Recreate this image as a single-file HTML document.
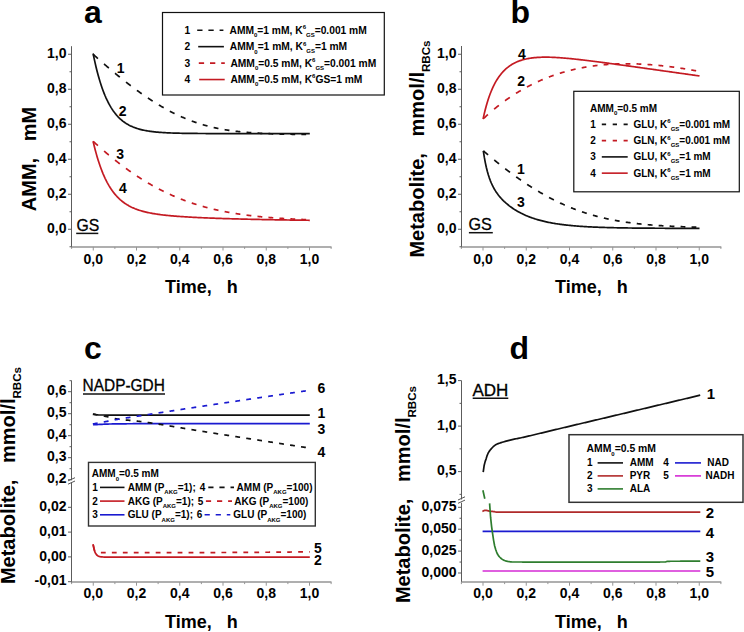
<!DOCTYPE html>
<html><head><meta charset="utf-8"><style>
html,body{margin:0;padding:0;background:#fff;}
svg{display:block;}
text{font-family:"Liberation Sans",sans-serif;fill:#000;}
</style></head><body>
<svg width="744" height="632" viewBox="0 0 744 632">
<rect width="744" height="632" fill="#fff"/>
<text x="84.1" y="23.4" font-size="32" font-weight="bold" text-anchor="start">a</text>
<line x1="71.5" y1="46.2" x2="71.5" y2="247.2" stroke="#5c5c5c" stroke-width="1"/>
<line x1="71.5" y1="246.9" x2="331.5" y2="246.9" stroke="#959595" stroke-width="1.5"/>
<line x1="71.62" y1="246.9" x2="71.62" y2="248.9" stroke="#959595" stroke-width="1"/>
<line x1="93.25" y1="246.9" x2="93.25" y2="250.5" stroke="#959595" stroke-width="1"/>
<text x="93.25" y="263.9" font-size="14" font-weight="bold" text-anchor="middle">0,0</text>
<line x1="114.88" y1="246.9" x2="114.88" y2="248.9" stroke="#959595" stroke-width="1"/>
<line x1="136.5" y1="246.9" x2="136.5" y2="250.5" stroke="#959595" stroke-width="1"/>
<text x="136.5" y="263.9" font-size="14" font-weight="bold" text-anchor="middle">0,2</text>
<line x1="158.12" y1="246.9" x2="158.12" y2="248.9" stroke="#959595" stroke-width="1"/>
<line x1="179.75" y1="246.9" x2="179.75" y2="250.5" stroke="#959595" stroke-width="1"/>
<text x="179.75" y="263.9" font-size="14" font-weight="bold" text-anchor="middle">0,4</text>
<line x1="201.38" y1="246.9" x2="201.38" y2="248.9" stroke="#959595" stroke-width="1"/>
<line x1="223" y1="246.9" x2="223" y2="250.5" stroke="#959595" stroke-width="1"/>
<text x="223" y="263.9" font-size="14" font-weight="bold" text-anchor="middle">0,6</text>
<line x1="244.62" y1="246.9" x2="244.62" y2="248.9" stroke="#959595" stroke-width="1"/>
<line x1="266.25" y1="246.9" x2="266.25" y2="250.5" stroke="#959595" stroke-width="1"/>
<text x="266.25" y="263.9" font-size="14" font-weight="bold" text-anchor="middle">0,8</text>
<line x1="287.88" y1="246.9" x2="287.88" y2="248.9" stroke="#959595" stroke-width="1"/>
<line x1="309.5" y1="246.9" x2="309.5" y2="250.5" stroke="#959595" stroke-width="1"/>
<text x="309.5" y="263.9" font-size="14" font-weight="bold" text-anchor="middle">1,0</text>
<line x1="331.12" y1="246.9" x2="331.12" y2="248.9" stroke="#959595" stroke-width="1"/>
<line x1="68" y1="229.25" x2="71.5" y2="229.25" stroke="#5c5c5c" stroke-width="1"/>
<text x="66.5" y="232.85" font-size="14" font-weight="bold" text-anchor="end">0,0</text>
<line x1="68" y1="194.25" x2="71.5" y2="194.25" stroke="#5c5c5c" stroke-width="1"/>
<text x="66.5" y="197.85" font-size="14" font-weight="bold" text-anchor="end">0,2</text>
<line x1="68" y1="159.25" x2="71.5" y2="159.25" stroke="#5c5c5c" stroke-width="1"/>
<text x="66.5" y="162.85" font-size="14" font-weight="bold" text-anchor="end">0,4</text>
<line x1="68" y1="124.25" x2="71.5" y2="124.25" stroke="#5c5c5c" stroke-width="1"/>
<text x="66.5" y="127.85" font-size="14" font-weight="bold" text-anchor="end">0,6</text>
<line x1="68" y1="89.25" x2="71.5" y2="89.25" stroke="#5c5c5c" stroke-width="1"/>
<text x="66.5" y="92.85" font-size="14" font-weight="bold" text-anchor="end">0,8</text>
<line x1="68" y1="54.25" x2="71.5" y2="54.25" stroke="#5c5c5c" stroke-width="1"/>
<text x="66.5" y="57.85" font-size="14" font-weight="bold" text-anchor="end">1,0</text>
<line x1="69.5" y1="246.75" x2="71.5" y2="246.75" stroke="#5c5c5c" stroke-width="1"/>
<line x1="69.5" y1="211.75" x2="71.5" y2="211.75" stroke="#5c5c5c" stroke-width="1"/>
<line x1="69.5" y1="176.75" x2="71.5" y2="176.75" stroke="#5c5c5c" stroke-width="1"/>
<line x1="69.5" y1="141.75" x2="71.5" y2="141.75" stroke="#5c5c5c" stroke-width="1"/>
<line x1="69.5" y1="106.75" x2="71.5" y2="106.75" stroke="#5c5c5c" stroke-width="1"/>
<line x1="69.5" y1="71.75" x2="71.5" y2="71.75" stroke="#5c5c5c" stroke-width="1"/>
<path d="M93.1 54.3 L93.6 54.75 L94.1 55.2 L94.6 55.65 L95.1 56.09 L95.6 56.54 L96.1 56.99 L96.6 57.43 L97.1 57.88 L97.6 58.32 L97.9 58.59 M104.06 63.98 L104.56 64.42 L105.06 64.85 L105.56 65.28 L106.06 65.71 L106.56 66.14 L107.06 66.56 L107.56 66.99 L108.06 67.42 L108.56 67.84 L108.86 68.1 M115.02 73.26 L115.52 73.67 L116.02 74.08 L116.52 74.49 L117.02 74.9 L117.52 75.31 L118.02 75.72 L118.52 76.12 L119.02 76.53 L119.52 76.93 L119.82 77.17 M125.98 82.06 L126.48 82.45 L126.98 82.84 L127.48 83.23 L127.98 83.61 L128.48 84 L128.98 84.38 L129.48 84.76 L129.98 85.15 L130.48 85.53 L130.78 85.75 M136.94 90.33 L137.44 90.69 L137.94 91.05 L138.44 91.41 L138.94 91.77 L139.44 92.13 L139.94 92.49 L140.44 92.84 L140.94 93.2 L141.44 93.55 L141.74 93.76 M147.9 97.98 L148.4 98.31 L148.9 98.64 L149.4 98.97 L149.9 99.3 L150.4 99.63 L150.9 99.96 L151.4 100.28 L151.9 100.6 L152.4 100.93 L152.7 101.12 M158.86 104.94 L159.36 105.24 L159.86 105.54 L160.36 105.83 L160.86 106.13 L161.36 106.42 L161.86 106.71 L162.36 107 L162.86 107.29 L163.36 107.58 L163.66 107.75 M169.82 111.13 L170.32 111.39 L170.82 111.65 L171.32 111.91 L171.82 112.17 L172.32 112.43 L172.82 112.68 L173.32 112.93 L173.82 113.18 L174.32 113.43 L174.62 113.58 M180.78 116.49 L181.28 116.72 L181.78 116.94 L182.28 117.16 L182.78 117.38 L183.28 117.59 L183.78 117.81 L184.28 118.02 L184.78 118.23 L185.28 118.44 L185.58 118.57 M191.74 120.99 L192.24 121.18 L192.74 121.36 L193.24 121.54 L193.74 121.72 L194.24 121.9 L194.74 122.08 L195.24 122.25 L195.74 122.42 L196.24 122.59 L196.54 122.7 M202.7 124.64 L203.2 124.79 L203.7 124.94 L204.2 125.08 L204.7 125.22 L205.2 125.36 L205.7 125.5 L206.2 125.64 L206.7 125.77 L207.2 125.91 L207.5 125.99 M213.66 127.5 L214.16 127.61 L214.66 127.72 L215.16 127.83 L215.66 127.94 L216.16 128.05 L216.66 128.15 L217.16 128.26 L217.66 128.36 L218.16 128.46 L218.46 128.52 M224.62 129.65 L225.12 129.74 L225.62 129.82 L226.12 129.9 L226.62 129.98 L227.12 130.06 L227.62 130.14 L228.12 130.21 L228.62 130.29 L229.12 130.36 L229.42 130.41 M235.58 131.23 L236.08 131.29 L236.58 131.35 L237.08 131.41 L237.58 131.46 L238.08 131.52 L238.58 131.58 L239.08 131.63 L239.58 131.68 L240.08 131.74 L240.38 131.77 M246.54 132.35 L247.04 132.39 L247.54 132.43 L248.04 132.47 L248.54 132.51 L249.04 132.55 L249.54 132.59 L250.04 132.63 L250.54 132.67 L251.04 132.7 L251.34 132.72 M257.5 133.13 L258 133.15 L258.5 133.18 L259 133.21 L259.5 133.24 L260 133.27 L260.5 133.29 L261 133.32 L261.5 133.34 L262 133.37 L262.3 133.38 M268.46 133.66 L268.96 133.68 L269.46 133.7 L269.96 133.71 L270.46 133.73 L270.96 133.75 L271.46 133.77 L271.96 133.79 L272.46 133.8 L272.96 133.82 L273.26 133.83 M279.42 134.02 L279.92 134.03 L280.42 134.04 L280.92 134.06 L281.42 134.07 L281.92 134.08 L282.42 134.09 L282.92 134.1 L283.42 134.12 L283.92 134.13 L284.22 134.13 M290.38 134.26 L290.88 134.27 L291.38 134.27 L291.88 134.28 L292.38 134.29 L292.88 134.3 L293.38 134.31 L293.88 134.32 L294.38 134.32 L294.88 134.33 L295.18 134.34 M301.34 134.42 L301.84 134.42 L302.34 134.43 L302.84 134.43 L303.34 134.44 L303.84 134.45 L304.34 134.45 L304.84 134.46 L305.34 134.46 L305.84 134.47 L306.14 134.47" fill="none" stroke="#111" stroke-width="1.7" stroke-linejoin="round"/>
<path d="M93.1 53.5 L94.1 58.35 L95.1 62.91 L96.1 67.19 L97.1 71.22 L98.1 75 L99.1 78.55 L100.1 81.88 L101.1 85.01 L102.1 87.96 L103.1 90.72 L104.1 93.32 L105.1 95.76 L106.1 98.05 L107.1 100.2 L108.1 102.23 L109.1 104.13 L110.1 105.91 L111.1 107.59 L112.1 109.16 L113.1 110.64 L114.1 112.03 L115.1 113.34 L116.1 114.57 L117.1 115.72 L118.1 116.8 L119.1 117.82 L120.1 118.78 L121.1 119.67 L122.1 120.52 L123.1 121.31 L124.1 122.05 L125.1 122.75 L126.1 123.41 L127.1 124.03 L128.1 124.61 L129.1 125.15 L130.1 125.66 L131.1 126.14 L132.1 126.59 L133.1 127.02 L134.1 127.42 L135.1 127.79 L136.1 128.14 L137.1 128.47 L138.1 128.78 L139.1 129.07 L140.1 129.35 L141.1 129.61 L142.1 129.85 L143.1 130.07 L144.1 130.29 L145.1 130.49 L146.1 130.68 L147.1 130.85 L148.1 131.02 L149.1 131.18 L150.1 131.32 L151.1 131.46 L152.1 131.59 L153.1 131.71 L154.1 131.82 L155.1 131.93 L156.1 132.03 L157.1 132.13 L158.1 132.22 L159.1 132.3 L160.1 132.38 L161.1 132.45 L162.1 132.52 L163.1 132.59 L164.1 132.65 L165.1 132.7 L166.1 132.76 L167.1 132.81 L168.1 132.86 L169.1 132.9 L170.1 132.94 L171.1 132.98 L172.1 133.02 L173.1 133.05 L174.1 133.09 L175.1 133.12 L176.1 133.15 L177.1 133.17 L178.1 133.2 L179.1 133.22 L180.1 133.25 L181.1 133.27 L182.1 133.29 L183.1 133.31 L184.1 133.32 L185.1 133.34 L186.1 133.36 L187.1 133.37 L188.1 133.38 L189.1 133.4 L190.1 133.41 L191.1 133.42 L192.1 133.43 L193.1 133.44 L194.1 133.45 L195.1 133.46 L196.1 133.47 L197.1 133.47 L198.1 133.48 L199.1 133.49 L200.1 133.5 L201.1 133.5 L202.1 133.51 L203.1 133.51 L204.1 133.52 L205.1 133.52 L206.1 133.53 L207.1 133.53 L208.1 133.53 L209.1 133.54 L210.1 133.54 L211.1 133.54 L212.1 133.55 L213.1 133.55 L214.1 133.55 L215.1 133.56 L216.1 133.56 L217.1 133.56 L218.1 133.56 L219.1 133.56 L220.1 133.57 L221.1 133.57 L222.1 133.57 L223.1 133.57 L224.1 133.57 L225.1 133.57 L226.1 133.58 L227.1 133.58 L228.1 133.58 L229.1 133.58 L230.1 133.58 L231.1 133.58 L232.1 133.58 L233.1 133.58 L234.1 133.58 L235.1 133.58 L236.1 133.58 L237.1 133.59 L238.1 133.59 L239.1 133.59 L240.1 133.59 L241.1 133.59 L242.1 133.59 L243.1 133.59 L244.1 133.59 L245.1 133.59 L246.1 133.59 L247.1 133.59 L248.1 133.59 L249.1 133.59 L250.1 133.59 L251.1 133.59 L252.1 133.59 L253.1 133.59 L254.1 133.59 L255.1 133.59 L256.1 133.59 L257.1 133.59 L258.1 133.59 L259.1 133.59 L260.1 133.59 L261.1 133.59 L262.1 133.59 L263.1 133.59 L264.1 133.59 L265.1 133.59 L266.1 133.59 L267.1 133.59 L268.1 133.59 L269.1 133.59 L270.1 133.59 L271.1 133.59 L272.1 133.59 L273.1 133.59 L274.1 133.59 L275.1 133.59 L276.1 133.59 L277.1 133.59 L278.1 133.59 L279.1 133.59 L280.1 133.59 L281.1 133.59 L282.1 133.59 L283.1 133.59 L284.1 133.59 L285.1 133.59 L286.1 133.59 L287.1 133.59 L288.1 133.59 L289.1 133.59 L290.1 133.59 L291.1 133.59 L292.1 133.59 L293.1 133.59 L294.1 133.59 L295.1 133.59 L296.1 133.59 L297.1 133.59 L298.1 133.59 L299.1 133.59 L300.1 133.59 L301.1 133.59 L302.1 133.59 L303.1 133.59 L304.1 133.59 L305.1 133.59 L306.1 133.59 L307.1 133.59 L308.1 133.59 L309.1 133.59 L309.8 133.59" fill="none" stroke="#111" stroke-width="1.7" stroke-linejoin="round"/>
<path d="M93.1 141.3 L93.6 141.76 L94.1 142.22 L94.6 142.67 L95.1 143.13 L95.6 143.58 L96.1 144.03 L96.6 144.48 L97.1 144.93 L97.6 145.38 L97.9 145.65 M104.06 151.04 L104.56 151.47 L105.06 151.9 L105.56 152.32 L106.06 152.75 L106.56 153.17 L107.06 153.59 L107.56 154.01 L108.06 154.43 L108.56 154.85 L108.86 155.09 M115.02 160.1 L115.52 160.49 L116.02 160.89 L116.52 161.28 L117.02 161.67 L117.52 162.06 L118.02 162.45 L118.52 162.84 L119.02 163.22 L119.52 163.61 L119.82 163.84 M125.98 168.43 L126.48 168.79 L126.98 169.16 L127.48 169.52 L127.98 169.87 L128.48 170.23 L128.98 170.59 L129.48 170.94 L129.98 171.29 L130.48 171.64 L130.78 171.85 M136.94 176.03 L137.44 176.36 L137.94 176.68 L138.44 177.01 L138.94 177.33 L139.44 177.66 L139.94 177.98 L140.44 178.3 L140.94 178.61 L141.44 178.93 L141.74 179.12 M147.9 182.87 L148.4 183.17 L148.9 183.46 L149.4 183.75 L149.9 184.04 L150.4 184.33 L150.9 184.62 L151.4 184.9 L151.9 185.19 L152.4 185.47 L152.7 185.64 M158.86 188.97 L159.36 189.23 L159.86 189.49 L160.36 189.75 L160.86 190 L161.36 190.26 L161.86 190.51 L162.36 190.76 L162.86 191.01 L163.36 191.26 L163.66 191.41 M169.82 194.34 L170.32 194.56 L170.82 194.79 L171.32 195.01 L171.82 195.24 L172.32 195.46 L172.82 195.68 L173.32 195.9 L173.82 196.12 L174.32 196.33 L174.62 196.46 M180.78 199 L181.28 199.19 L181.78 199.39 L182.28 199.58 L182.78 199.77 L183.28 199.97 L183.78 200.15 L184.28 200.34 L184.78 200.53 L185.28 200.72 L185.58 200.83 M191.74 203 L192.24 203.16 L192.74 203.33 L193.24 203.49 L193.74 203.66 L194.24 203.82 L194.74 203.98 L195.24 204.14 L195.74 204.3 L196.24 204.46 L196.54 204.55 M202.7 206.39 L203.2 206.53 L203.7 206.67 L204.2 206.81 L204.7 206.95 L205.2 207.08 L205.7 207.22 L206.2 207.35 L206.7 207.49 L207.2 207.62 L207.5 207.7 M213.66 209.23 L214.16 209.35 L214.66 209.46 L215.16 209.58 L215.66 209.7 L216.16 209.81 L216.66 209.92 L217.16 210.03 L217.66 210.14 L218.16 210.25 L218.46 210.32 M224.62 211.59 L225.12 211.69 L225.62 211.78 L226.12 211.88 L226.62 211.97 L227.12 212.07 L227.62 212.16 L228.12 212.25 L228.62 212.34 L229.12 212.43 L229.42 212.49 M235.58 213.53 L236.08 213.61 L236.58 213.69 L237.08 213.76 L237.58 213.84 L238.08 213.92 L238.58 213.99 L239.08 214.07 L239.58 214.14 L240.08 214.22 L240.38 214.26 M246.54 215.11 L247.04 215.17 L247.54 215.24 L248.04 215.3 L248.54 215.36 L249.04 215.42 L249.54 215.49 L250.04 215.55 L250.54 215.61 L251.04 215.67 L251.34 215.7 M257.5 216.39 L258 216.44 L258.5 216.49 L259 216.54 L259.5 216.59 L260 216.64 L260.5 216.69 L261 216.74 L261.5 216.79 L262 216.84 L262.3 216.86 M268.46 217.42 L268.96 217.46 L269.46 217.5 L269.96 217.54 L270.46 217.58 L270.96 217.62 L271.46 217.66 L271.96 217.7 L272.46 217.74 L272.96 217.78 L273.26 217.8 M279.42 218.24 L279.92 218.27 L280.42 218.3 L280.92 218.34 L281.42 218.37 L281.92 218.4 L282.42 218.43 L282.92 218.46 L283.42 218.5 L283.92 218.53 L284.22 218.54 M290.38 218.89 L290.88 218.92 L291.38 218.95 L291.88 218.97 L292.38 219 L292.88 219.02 L293.38 219.05 L293.88 219.07 L294.38 219.1 L294.88 219.12 L295.18 219.14 M301.34 219.42 L301.84 219.44 L302.34 219.46 L302.84 219.48 L303.34 219.5 L303.84 219.52 L304.34 219.54 L304.84 219.56 L305.34 219.58 L305.84 219.6 L306.14 219.61" fill="none" stroke="#c41a22" stroke-width="1.7" stroke-linejoin="round"/>
<path d="M93.1 141.3 L94.1 145.49 L95.1 149.43 L96.1 153.15 L97.1 156.65 L98.1 159.95 L99.1 163.06 L100.1 165.99 L101.1 168.75 L102.1 171.35 L103.1 173.81 L104.1 176.12 L105.1 178.31 L106.1 180.36 L107.1 182.31 L108.1 184.14 L109.1 185.86 L110.1 187.49 L111.1 189.03 L112.1 190.49 L113.1 191.86 L114.1 193.15 L115.1 194.37 L116.1 195.53 L117.1 196.62 L118.1 197.65 L119.1 198.63 L120.1 199.55 L121.1 200.42 L122.1 201.24 L123.1 202.02 L124.1 202.76 L125.1 203.46 L126.1 204.12 L127.1 204.75 L128.1 205.34 L129.1 205.91 L130.1 206.44 L131.1 206.95 L132.1 207.43 L133.1 207.88 L134.1 208.31 L135.1 208.73 L136.1 209.12 L137.1 209.49 L138.1 209.84 L139.1 210.18 L140.1 210.5 L141.1 210.8 L142.1 211.09 L143.1 211.37 L144.1 211.63 L145.1 211.88 L146.1 212.13 L147.1 212.36 L148.1 212.57 L149.1 212.78 L150.1 212.99 L151.1 213.18 L152.1 213.36 L153.1 213.54 L154.1 213.71 L155.1 213.87 L156.1 214.03 L157.1 214.18 L158.1 214.32 L159.1 214.46 L160.1 214.59 L161.1 214.72 L162.1 214.85 L163.1 214.97 L164.1 215.08 L165.1 215.19 L166.1 215.3 L167.1 215.41 L168.1 215.51 L169.1 215.6 L170.1 215.7 L171.1 215.79 L172.1 215.88 L173.1 215.97 L174.1 216.05 L175.1 216.13 L176.1 216.21 L177.1 216.29 L178.1 216.36 L179.1 216.43 L180.1 216.51 L181.1 216.58 L182.1 216.64 L183.1 216.71 L184.1 216.77 L185.1 216.84 L186.1 216.9 L187.1 216.96 L188.1 217.02 L189.1 217.07 L190.1 217.13 L191.1 217.19 L192.1 217.24 L193.1 217.29 L194.1 217.34 L195.1 217.4 L196.1 217.45 L197.1 217.49 L198.1 217.54 L199.1 217.59 L200.1 217.64 L201.1 217.68 L202.1 217.73 L203.1 217.77 L204.1 217.81 L205.1 217.86 L206.1 217.9 L207.1 217.94 L208.1 217.98 L209.1 218.02 L210.1 218.06 L211.1 218.1 L212.1 218.14 L213.1 218.18 L214.1 218.21 L215.1 218.25 L216.1 218.29 L217.1 218.32 L218.1 218.36 L219.1 218.39 L220.1 218.43 L221.1 218.46 L222.1 218.49 L223.1 218.53 L224.1 218.56 L225.1 218.59 L226.1 218.62 L227.1 218.65 L228.1 218.68 L229.1 218.71 L230.1 218.74 L231.1 218.77 L232.1 218.8 L233.1 218.83 L234.1 218.86 L235.1 218.89 L236.1 218.92 L237.1 218.94 L238.1 218.97 L239.1 219 L240.1 219.02 L241.1 219.05 L242.1 219.08 L243.1 219.1 L244.1 219.13 L245.1 219.15 L246.1 219.18 L247.1 219.2 L248.1 219.23 L249.1 219.25 L250.1 219.27 L251.1 219.3 L252.1 219.32 L253.1 219.34 L254.1 219.36 L255.1 219.39 L256.1 219.41 L257.1 219.43 L258.1 219.45 L259.1 219.47 L260.1 219.49 L261.1 219.52 L262.1 219.54 L263.1 219.56 L264.1 219.58 L265.1 219.6 L266.1 219.62 L267.1 219.64 L268.1 219.65 L269.1 219.67 L270.1 219.69 L271.1 219.71 L272.1 219.73 L273.1 219.75 L274.1 219.77 L275.1 219.78 L276.1 219.8 L277.1 219.82 L278.1 219.84 L279.1 219.85 L280.1 219.87 L281.1 219.89 L282.1 219.9 L283.1 219.92 L284.1 219.93 L285.1 219.95 L286.1 219.97 L287.1 219.98 L288.1 220 L289.1 220.01 L290.1 220.03 L291.1 220.04 L292.1 220.06 L293.1 220.07 L294.1 220.09 L295.1 220.1 L296.1 220.11 L297.1 220.13 L298.1 220.14 L299.1 220.16 L300.1 220.17 L301.1 220.18 L302.1 220.2 L303.1 220.21 L304.1 220.22 L305.1 220.23 L306.1 220.25 L307.1 220.26 L308.1 220.27 L309.1 220.28 L309.8 220.29" fill="none" stroke="#c41a22" stroke-width="1.7" stroke-linejoin="round"/>
<text x="120.7" y="73.2" font-size="14" font-weight="bold" text-anchor="middle">1</text>
<text x="122.6" y="115.7" font-size="14" font-weight="bold" text-anchor="middle">2</text>
<text x="120.2" y="159.4" font-size="14" font-weight="bold" text-anchor="middle">3</text>
<text x="122.8" y="192.6" font-size="14" font-weight="bold" text-anchor="middle">4</text>
<text transform="translate(76.4 230.7) scale(0.93 1)" font-size="17" stroke="#000" stroke-width="0.3">GS</text>
<line x1="76.2" y1="233.4" x2="98.3" y2="233.4" stroke="#111" stroke-width="1.5"/>
<text transform="translate(36.3 159) rotate(-90)" font-size="20" font-weight="bold" text-anchor="middle">AMM,&#160;&#160;&#160;mM</text>
<text x="165" y="292.9" font-size="18" font-weight="bold" text-anchor="start">Time,&#160;&#160;&#160;h</text>
<rect x="162.5" y="12.5" width="221.8" height="82.5" fill="none" stroke="#111" stroke-width="1.2"/>
<text x="184.5" y="33.6" font-size="10.25" font-weight="bold" text-anchor="start">1</text>
<line x1="197.2" y1="30.2" x2="223.4" y2="30.2" stroke="#111" stroke-width="1.6" stroke-dasharray="5.3 5.9"/>
<text x="229.5" y="33.6" font-size="10.25" font-weight="bold">AMM<tspan font-size="6" dy="3.5">0</tspan><tspan dy="-3.5">=1 mM, </tspan>K<tspan font-size="6" dy="-4.5">6</tspan><tspan font-size="6" dy="7.5">GS</tspan><tspan dy="-3">=0.001 mM</tspan></text>
<text x="184.5" y="50.05" font-size="10.25" font-weight="bold" text-anchor="start">2</text>
<line x1="198.2" y1="46.65" x2="223.9" y2="46.65" stroke="#111" stroke-width="1.6"/>
<text x="229.8" y="50.05" font-size="10.25" font-weight="bold">AMM<tspan font-size="6" dy="3.5">0</tspan><tspan dy="-3.5">=1 mM, </tspan>K<tspan font-size="6" dy="-4.5">6</tspan><tspan font-size="6" dy="7.5">GS</tspan><tspan dy="-3">=1 mM</tspan></text>
<text x="184.5" y="66.5" font-size="10.25" font-weight="bold" text-anchor="start">3</text>
<line x1="198.8" y1="63.1" x2="224.8" y2="63.1" stroke="#c41a22" stroke-width="1.6" stroke-dasharray="5.3 5.9"/>
<text x="230.4" y="66.5" font-size="10.25" font-weight="bold">AMM<tspan font-size="6" dy="3.5">0</tspan><tspan dy="-3.5">=0.5 mM, </tspan>K<tspan font-size="6" dy="-4.5">6</tspan><tspan font-size="6" dy="7.5">GS</tspan><tspan dy="-3">=0.001 mM</tspan></text>
<text x="184.5" y="82.95" font-size="10.25" font-weight="bold" text-anchor="start">4</text>
<line x1="199.2" y1="79.55" x2="224.7" y2="79.55" stroke="#c41a22" stroke-width="1.6"/>
<text x="230.4" y="82.95" font-size="10.25" font-weight="bold">AMM<tspan font-size="6" dy="3.5">0</tspan><tspan dy="-3.5">=0.5 mM, K<tspan font-size="6" dy="-4.5">6</tspan><tspan dy="4.5">GS=1 mM</tspan></tspan></text>
<text x="510.6" y="23.4" font-size="32" font-weight="bold" text-anchor="start">b</text>
<line x1="461.5" y1="46" x2="461.5" y2="247.2" stroke="#5c5c5c" stroke-width="1"/>
<line x1="461.5" y1="246.9" x2="721.3" y2="246.9" stroke="#959595" stroke-width="1.5"/>
<line x1="461.38" y1="246.9" x2="461.38" y2="248.9" stroke="#959595" stroke-width="1"/>
<line x1="483" y1="246.9" x2="483" y2="250.5" stroke="#959595" stroke-width="1"/>
<text x="483" y="263.9" font-size="14" font-weight="bold" text-anchor="middle">0,0</text>
<line x1="504.62" y1="246.9" x2="504.62" y2="248.9" stroke="#959595" stroke-width="1"/>
<line x1="526.25" y1="246.9" x2="526.25" y2="250.5" stroke="#959595" stroke-width="1"/>
<text x="526.25" y="263.9" font-size="14" font-weight="bold" text-anchor="middle">0,2</text>
<line x1="547.88" y1="246.9" x2="547.88" y2="248.9" stroke="#959595" stroke-width="1"/>
<line x1="569.5" y1="246.9" x2="569.5" y2="250.5" stroke="#959595" stroke-width="1"/>
<text x="569.5" y="263.9" font-size="14" font-weight="bold" text-anchor="middle">0,4</text>
<line x1="591.12" y1="246.9" x2="591.12" y2="248.9" stroke="#959595" stroke-width="1"/>
<line x1="612.75" y1="246.9" x2="612.75" y2="250.5" stroke="#959595" stroke-width="1"/>
<text x="612.75" y="263.9" font-size="14" font-weight="bold" text-anchor="middle">0,6</text>
<line x1="634.38" y1="246.9" x2="634.38" y2="248.9" stroke="#959595" stroke-width="1"/>
<line x1="656" y1="246.9" x2="656" y2="250.5" stroke="#959595" stroke-width="1"/>
<text x="656" y="263.9" font-size="14" font-weight="bold" text-anchor="middle">0,8</text>
<line x1="677.62" y1="246.9" x2="677.62" y2="248.9" stroke="#959595" stroke-width="1"/>
<line x1="699.25" y1="246.9" x2="699.25" y2="250.5" stroke="#959595" stroke-width="1"/>
<text x="699.25" y="263.9" font-size="14" font-weight="bold" text-anchor="middle">1,0</text>
<line x1="720.88" y1="246.9" x2="720.88" y2="248.9" stroke="#959595" stroke-width="1"/>
<line x1="458" y1="229.25" x2="461.5" y2="229.25" stroke="#5c5c5c" stroke-width="1"/>
<text x="456.5" y="232.85" font-size="14" font-weight="bold" text-anchor="end">0,0</text>
<line x1="458" y1="194.25" x2="461.5" y2="194.25" stroke="#5c5c5c" stroke-width="1"/>
<text x="456.5" y="197.85" font-size="14" font-weight="bold" text-anchor="end">0,2</text>
<line x1="458" y1="159.25" x2="461.5" y2="159.25" stroke="#5c5c5c" stroke-width="1"/>
<text x="456.5" y="162.85" font-size="14" font-weight="bold" text-anchor="end">0,4</text>
<line x1="458" y1="124.25" x2="461.5" y2="124.25" stroke="#5c5c5c" stroke-width="1"/>
<text x="456.5" y="127.85" font-size="14" font-weight="bold" text-anchor="end">0,6</text>
<line x1="458" y1="89.25" x2="461.5" y2="89.25" stroke="#5c5c5c" stroke-width="1"/>
<text x="456.5" y="92.85" font-size="14" font-weight="bold" text-anchor="end">0,8</text>
<line x1="458" y1="54.25" x2="461.5" y2="54.25" stroke="#5c5c5c" stroke-width="1"/>
<text x="456.5" y="57.85" font-size="14" font-weight="bold" text-anchor="end">1,0</text>
<line x1="459.5" y1="246.75" x2="461.5" y2="246.75" stroke="#5c5c5c" stroke-width="1"/>
<line x1="459.5" y1="211.75" x2="461.5" y2="211.75" stroke="#5c5c5c" stroke-width="1"/>
<line x1="459.5" y1="176.75" x2="461.5" y2="176.75" stroke="#5c5c5c" stroke-width="1"/>
<line x1="459.5" y1="141.75" x2="461.5" y2="141.75" stroke="#5c5c5c" stroke-width="1"/>
<line x1="459.5" y1="106.75" x2="461.5" y2="106.75" stroke="#5c5c5c" stroke-width="1"/>
<line x1="459.5" y1="71.75" x2="461.5" y2="71.75" stroke="#5c5c5c" stroke-width="1"/>
<path d="M483.1 118.9 L483.6 118.43 L484.1 117.96 L484.6 117.5 L485.1 117.04 L485.6 116.58 L486.1 116.12 L486.6 115.67 L487.1 115.22 L487.6 114.77 L487.9 114.5 M494.06 109.22 L494.56 108.8 L495.06 108.4 L495.56 107.99 L496.06 107.58 L496.56 107.18 L497.06 106.78 L497.56 106.38 L498.06 105.99 L498.56 105.6 L498.86 105.36 M505.02 100.74 L505.52 100.38 L506.02 100.03 L506.52 99.67 L507.02 99.32 L507.52 98.97 L508.02 98.62 L508.52 98.28 L509.02 97.93 L509.52 97.59 L509.82 97.39 M515.98 93.38 L516.48 93.07 L516.98 92.76 L517.48 92.45 L517.98 92.15 L518.48 91.85 L518.98 91.55 L519.48 91.25 L519.98 90.95 L520.48 90.66 L520.78 90.48 M526.94 87.03 L527.44 86.77 L527.94 86.5 L528.44 86.24 L528.94 85.98 L529.44 85.72 L529.94 85.46 L530.44 85.21 L530.94 84.95 L531.44 84.7 L531.74 84.55 M537.9 81.62 L538.4 81.39 L538.9 81.17 L539.4 80.95 L539.9 80.73 L540.4 80.51 L540.9 80.29 L541.4 80.08 L541.9 79.86 L542.4 79.65 L542.7 79.52 M548.86 77.06 L549.36 76.87 L549.86 76.69 L550.36 76.5 L550.86 76.32 L551.36 76.13 L551.86 75.95 L552.36 75.77 L552.86 75.6 L553.36 75.42 L553.66 75.32 M559.82 73.29 L560.32 73.13 L560.82 72.98 L561.32 72.83 L561.82 72.68 L562.32 72.53 L562.82 72.38 L563.32 72.23 L563.82 72.09 L564.32 71.95 L564.62 71.86 M570.78 70.23 L571.28 70.11 L571.78 69.98 L572.28 69.86 L572.78 69.74 L573.28 69.63 L573.78 69.51 L574.28 69.39 L574.78 69.28 L575.28 69.17 L575.58 69.1 M581.74 67.83 L582.24 67.73 L582.74 67.64 L583.24 67.55 L583.74 67.46 L584.24 67.37 L584.74 67.28 L585.24 67.19 L585.74 67.11 L586.24 67.02 L586.54 66.97 M592.7 66.03 L593.2 65.97 L593.7 65.9 L594.2 65.83 L594.7 65.77 L595.2 65.7 L595.7 65.64 L596.2 65.58 L596.7 65.52 L597.2 65.46 L597.5 65.42 M603.66 64.79 L604.16 64.75 L604.66 64.7 L605.16 64.66 L605.66 64.62 L606.16 64.58 L606.66 64.54 L607.16 64.5 L607.66 64.47 L608.16 64.43 L608.46 64.41 M614.62 64.05 L615.12 64.03 L615.62 64.01 L616.12 63.99 L616.62 63.97 L617.12 63.95 L617.62 63.94 L618.12 63.92 L618.62 63.9 L619.12 63.89 L619.42 63.88 M625.58 63.78 L626.08 63.78 L626.58 63.78 L627.08 63.78 L627.58 63.78 L628.08 63.78 L628.58 63.78 L629.08 63.79 L629.58 63.79 L630.08 63.8 L630.38 63.8 M636.54 63.94 L637.04 63.95 L637.54 63.97 L638.04 63.99 L638.54 64.01 L639.04 64.03 L639.54 64.05 L640.04 64.07 L640.54 64.09 L641.04 64.12 L641.34 64.13 M647.5 64.48 L648 64.51 L648.5 64.55 L649 64.58 L649.5 64.62 L650 64.66 L650.5 64.69 L651 64.73 L651.5 64.77 L652 64.81 L652.3 64.83 M658.46 65.38 L658.96 65.43 L659.46 65.48 L659.96 65.53 L660.46 65.58 L660.96 65.64 L661.46 65.69 L661.96 65.74 L662.46 65.8 L662.96 65.85 L663.26 65.88 M669.42 66.61 L669.92 66.68 L670.42 66.74 L670.92 66.81 L671.42 66.87 L671.92 66.94 L672.42 67 L672.92 67.07 L673.42 67.14 L673.92 67.21 L674.22 67.25 M680.38 68.14 L680.88 68.22 L681.38 68.3 L681.88 68.38 L682.38 68.45 L682.88 68.53 L683.38 68.61 L683.88 68.69 L684.38 68.77 L684.88 68.85 L685.18 68.9 M691.34 69.95 L691.84 70.04 L692.34 70.13 L692.84 70.22 L693.34 70.31 L693.84 70.4 L694.34 70.49 L694.84 70.58 L695.34 70.67 L695.84 70.77 L696.14 70.82" fill="none" stroke="#c41a22" stroke-width="1.7" stroke-linejoin="round"/>
<path d="M483.1 118.9 L484.1 114.41 L485.1 110.29 L486.1 106.5 L487.1 103 L488.1 99.78 L489.1 96.79 L490.1 94.03 L491.1 91.48 L492.1 89.1 L493.1 86.9 L494.1 84.85 L495.1 82.95 L496.1 81.17 L497.1 79.51 L498.1 77.97 L499.1 76.52 L500.1 75.17 L501.1 73.91 L502.1 72.73 L503.1 71.63 L504.1 70.59 L505.1 69.62 L506.1 68.71 L507.1 67.86 L508.1 67.07 L509.1 66.32 L510.1 65.62 L511.1 64.96 L512.1 64.35 L513.1 63.77 L514.1 63.23 L515.1 62.72 L516.1 62.25 L517.1 61.81 L518.1 61.4 L519.1 61.01 L520.1 60.65 L521.1 60.32 L522.1 60.01 L523.1 59.72 L524.1 59.45 L525.1 59.2 L526.1 58.97 L527.1 58.76 L528.1 58.57 L529.1 58.39 L530.1 58.23 L531.1 58.08 L532.1 57.94 L533.1 57.82 L534.1 57.71 L535.1 57.61 L536.1 57.53 L537.1 57.45 L538.1 57.39 L539.1 57.33 L540.1 57.28 L541.1 57.25 L542.1 57.22 L543.1 57.2 L544.1 57.18 L545.1 57.18 L546.1 57.18 L547.1 57.18 L548.1 57.2 L549.1 57.22 L550.1 57.24 L551.1 57.27 L552.1 57.31 L553.1 57.35 L554.1 57.39 L555.1 57.44 L556.1 57.5 L557.1 57.56 L558.1 57.62 L559.1 57.68 L560.1 57.75 L561.1 57.83 L562.1 57.9 L563.1 57.98 L564.1 58.06 L565.1 58.15 L566.1 58.23 L567.1 58.32 L568.1 58.42 L569.1 58.51 L570.1 58.61 L571.1 58.71 L572.1 58.81 L573.1 58.91 L574.1 59.01 L575.1 59.12 L576.1 59.23 L577.1 59.34 L578.1 59.45 L579.1 59.56 L580.1 59.67 L581.1 59.79 L582.1 59.9 L583.1 60.02 L584.1 60.14 L585.1 60.26 L586.1 60.38 L587.1 60.5 L588.1 60.62 L589.1 60.74 L590.1 60.87 L591.1 60.99 L592.1 61.12 L593.1 61.24 L594.1 61.37 L595.1 61.5 L596.1 61.63 L597.1 61.75 L598.1 61.88 L599.1 62.01 L600.1 62.14 L601.1 62.28 L602.1 62.41 L603.1 62.54 L604.1 62.67 L605.1 62.8 L606.1 62.94 L607.1 63.07 L608.1 63.2 L609.1 63.34 L610.1 63.47 L611.1 63.61 L612.1 63.74 L613.1 63.88 L614.1 64.01 L615.1 64.15 L616.1 64.29 L617.1 64.42 L618.1 64.56 L619.1 64.69 L620.1 64.83 L621.1 64.97 L622.1 65.11 L623.1 65.24 L624.1 65.38 L625.1 65.52 L626.1 65.66 L627.1 65.8 L628.1 65.93 L629.1 66.07 L630.1 66.21 L631.1 66.35 L632.1 66.49 L633.1 66.63 L634.1 66.77 L635.1 66.91 L636.1 67.04 L637.1 67.18 L638.1 67.32 L639.1 67.46 L640.1 67.6 L641.1 67.74 L642.1 67.88 L643.1 68.02 L644.1 68.16 L645.1 68.3 L646.1 68.44 L647.1 68.58 L648.1 68.72 L649.1 68.86 L650.1 69 L651.1 69.14 L652.1 69.28 L653.1 69.42 L654.1 69.56 L655.1 69.7 L656.1 69.84 L657.1 69.98 L658.1 70.12 L659.1 70.26 L660.1 70.4 L661.1 70.54 L662.1 70.68 L663.1 70.82 L664.1 70.97 L665.1 71.11 L666.1 71.25 L667.1 71.39 L668.1 71.53 L669.1 71.67 L670.1 71.81 L671.1 71.95 L672.1 72.09 L673.1 72.23 L674.1 72.37 L675.1 72.51 L676.1 72.65 L677.1 72.79 L678.1 72.94 L679.1 73.08 L680.1 73.22 L681.1 73.36 L682.1 73.5 L683.1 73.64 L684.1 73.78 L685.1 73.92 L686.1 74.06 L687.1 74.2 L688.1 74.34 L689.1 74.49 L690.1 74.63 L691.1 74.77 L692.1 74.91 L693.1 75.05 L694.1 75.19 L695.1 75.33 L696.1 75.47 L697.1 75.61 L698.1 75.75 L699.1 75.89 L699.5 75.95" fill="none" stroke="#c41a22" stroke-width="1.7" stroke-linejoin="round"/>
<path d="M483.3 150.8 L483.8 151.23 L484.3 151.66 L484.8 152.09 L485.3 152.52 L485.8 152.94 L486.3 153.37 L486.8 153.79 L487.3 154.22 L487.8 154.64 L488.1 154.89 M494.26 160.01 L494.76 160.42 L495.26 160.82 L495.76 161.23 L496.26 161.63 L496.76 162.04 L497.26 162.44 L497.76 162.84 L498.26 163.24 L498.76 163.64 L499.06 163.88 M505.22 168.7 L505.72 169.09 L506.22 169.47 L506.72 169.85 L507.22 170.23 L507.72 170.61 L508.22 170.99 L508.72 171.36 L509.22 171.74 L509.72 172.11 L510.02 172.34 M516.18 176.83 L516.68 177.19 L517.18 177.55 L517.68 177.9 L518.18 178.25 L518.68 178.61 L519.18 178.96 L519.68 179.31 L520.18 179.65 L520.68 180 L520.98 180.21 M527.14 184.36 L527.64 184.69 L528.14 185.01 L528.64 185.34 L529.14 185.66 L529.64 185.99 L530.14 186.31 L530.64 186.63 L531.14 186.95 L531.64 187.26 L531.94 187.45 M538.1 191.24 L538.6 191.53 L539.1 191.83 L539.6 192.12 L540.1 192.42 L540.6 192.71 L541.1 193 L541.6 193.29 L542.1 193.58 L542.6 193.86 L542.9 194.03 M549.06 197.43 L549.56 197.7 L550.06 197.96 L550.56 198.22 L551.06 198.49 L551.56 198.75 L552.06 199 L552.56 199.26 L553.06 199.52 L553.56 199.77 L553.86 199.92 M560.02 202.92 L560.52 203.16 L561.02 203.39 L561.52 203.62 L562.02 203.85 L562.52 204.08 L563.02 204.3 L563.52 204.53 L564.02 204.75 L564.52 204.97 L564.82 205.1 M570.98 207.71 L571.48 207.91 L571.98 208.11 L572.48 208.31 L572.98 208.5 L573.48 208.7 L573.98 208.89 L574.48 209.09 L574.98 209.28 L575.48 209.47 L575.78 209.58 M581.94 211.8 L582.44 211.97 L582.94 212.14 L583.44 212.3 L583.94 212.47 L584.44 212.63 L584.94 212.8 L585.44 212.96 L585.94 213.12 L586.44 213.28 L586.74 213.38 M592.9 215.23 L593.4 215.37 L593.9 215.51 L594.4 215.65 L594.9 215.79 L595.4 215.92 L595.9 216.06 L596.4 216.19 L596.9 216.32 L597.4 216.46 L597.7 216.53 M603.86 218.05 L604.36 218.17 L604.86 218.28 L605.36 218.39 L605.86 218.51 L606.36 218.62 L606.86 218.73 L607.36 218.84 L607.86 218.94 L608.36 219.05 L608.66 219.11 M614.82 220.34 L615.32 220.43 L615.82 220.52 L616.32 220.61 L616.82 220.7 L617.32 220.79 L617.82 220.88 L618.32 220.96 L618.82 221.05 L619.32 221.13 L619.62 221.18 M625.78 222.15 L626.28 222.23 L626.78 222.3 L627.28 222.37 L627.78 222.44 L628.28 222.51 L628.78 222.58 L629.28 222.65 L629.78 222.71 L630.28 222.78 L630.58 222.82 M636.74 223.58 L637.24 223.64 L637.74 223.69 L638.24 223.75 L638.74 223.8 L639.24 223.86 L639.74 223.91 L640.24 223.96 L640.74 224.01 L641.24 224.07 L641.54 224.1 M647.7 224.68 L648.2 224.73 L648.7 224.77 L649.2 224.81 L649.7 224.85 L650.2 224.9 L650.7 224.94 L651.2 224.98 L651.7 225.02 L652.2 225.06 L652.5 225.08 M658.66 225.53 L659.16 225.56 L659.66 225.59 L660.16 225.63 L660.66 225.66 L661.16 225.69 L661.66 225.72 L662.16 225.75 L662.66 225.78 L663.16 225.81 L663.46 225.83 M669.62 226.17 L670.12 226.2 L670.62 226.22 L671.12 226.25 L671.62 226.27 L672.12 226.29 L672.62 226.32 L673.12 226.34 L673.62 226.37 L674.12 226.39 L674.42 226.4 M680.58 226.66 L681.08 226.68 L681.58 226.7 L682.08 226.71 L682.58 226.73 L683.08 226.75 L683.58 226.77 L684.08 226.79 L684.58 226.8 L685.08 226.82 L685.38 226.83 M691.54 227.02 L692.04 227.04 L692.54 227.05 L693.04 227.07 L693.54 227.08 L694.04 227.09 L694.54 227.11 L695.04 227.12 L695.54 227.13 L696.04 227.14 L696.34 227.15" fill="none" stroke="#111" stroke-width="1.7" stroke-linejoin="round"/>
<path d="M483.3 150.8 L484.3 157.17 L485.3 162.59 L486.3 167.25 L487.3 171.27 L488.3 174.77 L489.3 177.85 L490.3 180.57 L491.3 183 L492.3 185.18 L493.3 187.16 L494.3 188.97 L495.3 190.63 L496.3 192.17 L497.3 193.6 L498.3 194.93 L499.3 196.19 L500.3 197.38 L501.3 198.5 L502.3 199.56 L503.3 200.58 L504.3 201.55 L505.3 202.47 L506.3 203.36 L507.3 204.21 L508.3 205.03 L509.3 205.82 L510.3 206.57 L511.3 207.3 L512.3 208.01 L513.3 208.69 L514.3 209.34 L515.3 209.97 L516.3 210.58 L517.3 211.17 L518.3 211.74 L519.3 212.29 L520.3 212.82 L521.3 213.34 L522.3 213.83 L523.3 214.31 L524.3 214.78 L525.3 215.23 L526.3 215.66 L527.3 216.08 L528.3 216.48 L529.3 216.88 L530.3 217.26 L531.3 217.62 L532.3 217.98 L533.3 218.32 L534.3 218.65 L535.3 218.97 L536.3 219.28 L537.3 219.58 L538.3 219.87 L539.3 220.15 L540.3 220.42 L541.3 220.69 L542.3 220.94 L543.3 221.19 L544.3 221.42 L545.3 221.65 L546.3 221.87 L547.3 222.09 L548.3 222.3 L549.3 222.5 L550.3 222.69 L551.3 222.88 L552.3 223.06 L553.3 223.24 L554.3 223.41 L555.3 223.57 L556.3 223.73 L557.3 223.88 L558.3 224.03 L559.3 224.17 L560.3 224.31 L561.3 224.45 L562.3 224.58 L563.3 224.7 L564.3 224.83 L565.3 224.94 L566.3 225.06 L567.3 225.17 L568.3 225.27 L569.3 225.38 L570.3 225.47 L571.3 225.57 L572.3 225.66 L573.3 225.75 L574.3 225.84 L575.3 225.93 L576.3 226.01 L577.3 226.09 L578.3 226.16 L579.3 226.23 L580.3 226.31 L581.3 226.37 L582.3 226.44 L583.3 226.51 L584.3 226.57 L585.3 226.63 L586.3 226.69 L587.3 226.74 L588.3 226.8 L589.3 226.85 L590.3 226.9 L591.3 226.95 L592.3 227 L593.3 227.04 L594.3 227.09 L595.3 227.13 L596.3 227.17 L597.3 227.21 L598.3 227.25 L599.3 227.29 L600.3 227.33 L601.3 227.36 L602.3 227.4 L603.3 227.43 L604.3 227.46 L605.3 227.49 L606.3 227.52 L607.3 227.55 L608.3 227.58 L609.3 227.61 L610.3 227.63 L611.3 227.66 L612.3 227.68 L613.3 227.7 L614.3 227.73 L615.3 227.75 L616.3 227.77 L617.3 227.79 L618.3 227.81 L619.3 227.83 L620.3 227.85 L621.3 227.87 L622.3 227.89 L623.3 227.9 L624.3 227.92 L625.3 227.93 L626.3 227.95 L627.3 227.96 L628.3 227.98 L629.3 227.99 L630.3 228.01 L631.3 228.02 L632.3 228.03 L633.3 228.04 L634.3 228.05 L635.3 228.07 L636.3 228.08 L637.3 228.09 L638.3 228.1 L639.3 228.11 L640.3 228.12 L641.3 228.13 L642.3 228.14 L643.3 228.14 L644.3 228.15 L645.3 228.16 L646.3 228.17 L647.3 228.18 L648.3 228.18 L649.3 228.19 L650.3 228.2 L651.3 228.2 L652.3 228.21 L653.3 228.22 L654.3 228.22 L655.3 228.23 L656.3 228.23 L657.3 228.24 L658.3 228.24 L659.3 228.25 L660.3 228.25 L661.3 228.26 L662.3 228.26 L663.3 228.27 L664.3 228.27 L665.3 228.28 L666.3 228.28 L667.3 228.28 L668.3 228.29 L669.3 228.29 L670.3 228.3 L671.3 228.3 L672.3 228.3 L673.3 228.31 L674.3 228.31 L675.3 228.31 L676.3 228.31 L677.3 228.32 L678.3 228.32 L679.3 228.32 L680.3 228.32 L681.3 228.33 L682.3 228.33 L683.3 228.33 L684.3 228.33 L685.3 228.34 L686.3 228.34 L687.3 228.34 L688.3 228.34 L689.3 228.34 L690.3 228.35 L691.3 228.35 L692.3 228.35 L693.3 228.35 L694.3 228.35 L695.3 228.35 L696.3 228.36 L697.3 228.36 L698.3 228.36 L699.3 228.36 L699.5 228.36" fill="none" stroke="#111" stroke-width="1.7" stroke-linejoin="round"/>
<text x="521.9" y="58.6" font-size="14" font-weight="bold" text-anchor="middle">4</text>
<text x="521.1" y="86.2" font-size="14" font-weight="bold" text-anchor="middle">2</text>
<text x="520.9" y="174.2" font-size="14" font-weight="bold" text-anchor="middle">1</text>
<text x="520.9" y="207.3" font-size="14" font-weight="bold" text-anchor="middle">3</text>
<text transform="translate(468.5 230.1) scale(0.95 1)" font-size="17" stroke="#000" stroke-width="0.3">GS</text>
<line x1="468.9" y1="232.7" x2="492.8" y2="232.7" stroke="#111" stroke-width="1.5"/>
<text transform="translate(424.4 149) rotate(-90)" font-size="20" font-weight="bold" text-anchor="middle">Metabolite,&#160;&#160;&#160;mmol/l<tspan font-size="11.6" dy="6">RBCs</tspan></text>
<text x="555" y="292.9" font-size="18" font-weight="bold" text-anchor="start">Time,&#160;&#160;&#160;h</text>
<rect x="573.8" y="91.3" width="165.5" height="100.5" fill="none" stroke="#111" stroke-width="1.2"/>
<text x="590" y="111.8" font-size="10" font-weight="bold" text-anchor="start">AMM<tspan font-size="6" dy="3.5">0</tspan><tspan dy="-3.5">=0.5 mM</tspan></text>
<text x="590.3" y="127.8" font-size="10" font-weight="bold" text-anchor="start">1</text>
<line x1="601.8" y1="124.4" x2="627.7" y2="124.4" stroke="#111" stroke-width="1.6" stroke-dasharray="4.3 6.6"/>
<text x="633.4" y="127.8" font-size="10" font-weight="bold">GLU, K<tspan font-size="6" dy="-4.5">6</tspan><tspan font-size="6" dy="7.5">GS</tspan><tspan dy="-3">=0.001 mM</tspan></text>
<text x="590.3" y="144.05" font-size="10" font-weight="bold" text-anchor="start">2</text>
<line x1="601.8" y1="140.65" x2="627.7" y2="140.65" stroke="#c41a22" stroke-width="1.6" stroke-dasharray="4.3 6.6"/>
<text x="633.4" y="144.05" font-size="10" font-weight="bold">GLN, K<tspan font-size="6" dy="-4.5">6</tspan><tspan font-size="6" dy="7.5">GS</tspan><tspan dy="-3">=0.001 mM</tspan></text>
<text x="590.3" y="160.3" font-size="10" font-weight="bold" text-anchor="start">3</text>
<line x1="601.8" y1="156.9" x2="627.7" y2="156.9" stroke="#111" stroke-width="1.6"/>
<text x="633.4" y="160.3" font-size="10" font-weight="bold">GLU, K<tspan font-size="6" dy="-4.5">6</tspan><tspan font-size="6" dy="7.5">GS</tspan><tspan dy="-3">=1 mM</tspan></text>
<text x="590.3" y="176.55" font-size="10" font-weight="bold" text-anchor="start">4</text>
<line x1="601.8" y1="173.15" x2="627.7" y2="173.15" stroke="#c41a22" stroke-width="1.6"/>
<text x="633.4" y="176.55" font-size="10" font-weight="bold">GLN, K<tspan font-size="6" dy="-4.5">6</tspan><tspan font-size="6" dy="7.5">GS</tspan><tspan dy="-3">=1 mM</tspan></text>
<text x="84" y="358.5" font-size="32" font-weight="bold" text-anchor="start">c</text>
<line x1="71.5" y1="380.5" x2="71.5" y2="480.3" stroke="#5c5c5c" stroke-width="1"/>
<line x1="71.5" y1="482.6" x2="71.5" y2="583.3" stroke="#5c5c5c" stroke-width="1"/>
<line x1="68" y1="480.9" x2="75" y2="477.7" stroke="#555" stroke-width="1"/>
<line x1="68" y1="484.2" x2="75" y2="481" stroke="#555" stroke-width="1"/>
<line x1="71.5" y1="582.1" x2="331.5" y2="582.1" stroke="#959595" stroke-width="1.5"/>
<line x1="71.62" y1="582.1" x2="71.62" y2="584.1" stroke="#959595" stroke-width="1"/>
<line x1="93.25" y1="582.1" x2="93.25" y2="585.7" stroke="#959595" stroke-width="1"/>
<text x="93.25" y="598.2" font-size="14" font-weight="bold" text-anchor="middle">0,0</text>
<line x1="114.88" y1="582.1" x2="114.88" y2="584.1" stroke="#959595" stroke-width="1"/>
<line x1="136.5" y1="582.1" x2="136.5" y2="585.7" stroke="#959595" stroke-width="1"/>
<text x="136.5" y="598.2" font-size="14" font-weight="bold" text-anchor="middle">0,2</text>
<line x1="158.12" y1="582.1" x2="158.12" y2="584.1" stroke="#959595" stroke-width="1"/>
<line x1="179.75" y1="582.1" x2="179.75" y2="585.7" stroke="#959595" stroke-width="1"/>
<text x="179.75" y="598.2" font-size="14" font-weight="bold" text-anchor="middle">0,4</text>
<line x1="201.38" y1="582.1" x2="201.38" y2="584.1" stroke="#959595" stroke-width="1"/>
<line x1="223" y1="582.1" x2="223" y2="585.7" stroke="#959595" stroke-width="1"/>
<text x="223" y="598.2" font-size="14" font-weight="bold" text-anchor="middle">0,6</text>
<line x1="244.62" y1="582.1" x2="244.62" y2="584.1" stroke="#959595" stroke-width="1"/>
<line x1="266.25" y1="582.1" x2="266.25" y2="585.7" stroke="#959595" stroke-width="1"/>
<text x="266.25" y="598.2" font-size="14" font-weight="bold" text-anchor="middle">0,8</text>
<line x1="287.88" y1="582.1" x2="287.88" y2="584.1" stroke="#959595" stroke-width="1"/>
<line x1="309.5" y1="582.1" x2="309.5" y2="585.7" stroke="#959595" stroke-width="1"/>
<text x="309.5" y="598.2" font-size="14" font-weight="bold" text-anchor="middle">1,0</text>
<line x1="331.12" y1="582.1" x2="331.12" y2="584.1" stroke="#959595" stroke-width="1"/>
<line x1="68" y1="479.7" x2="71.5" y2="479.7" stroke="#5c5c5c" stroke-width="1"/>
<text x="66.5" y="483.3" font-size="14" font-weight="bold" text-anchor="end">0,2</text>
<line x1="68" y1="457.7" x2="71.5" y2="457.7" stroke="#5c5c5c" stroke-width="1"/>
<text x="66.5" y="461.3" font-size="14" font-weight="bold" text-anchor="end">0,3</text>
<line x1="68" y1="435.7" x2="71.5" y2="435.7" stroke="#5c5c5c" stroke-width="1"/>
<text x="66.5" y="439.3" font-size="14" font-weight="bold" text-anchor="end">0,4</text>
<line x1="68" y1="413.7" x2="71.5" y2="413.7" stroke="#5c5c5c" stroke-width="1"/>
<text x="66.5" y="417.3" font-size="14" font-weight="bold" text-anchor="end">0,5</text>
<line x1="68" y1="391.7" x2="71.5" y2="391.7" stroke="#5c5c5c" stroke-width="1"/>
<text x="66.5" y="395.3" font-size="14" font-weight="bold" text-anchor="end">0,6</text>
<line x1="69.5" y1="468.7" x2="71.5" y2="468.7" stroke="#5c5c5c" stroke-width="1"/>
<line x1="69.5" y1="446.7" x2="71.5" y2="446.7" stroke="#5c5c5c" stroke-width="1"/>
<line x1="69.5" y1="424.7" x2="71.5" y2="424.7" stroke="#5c5c5c" stroke-width="1"/>
<line x1="69.5" y1="402.7" x2="71.5" y2="402.7" stroke="#5c5c5c" stroke-width="1"/>
<line x1="69.5" y1="380.7" x2="71.5" y2="380.7" stroke="#5c5c5c" stroke-width="1"/>
<line x1="68" y1="581.7" x2="71.5" y2="581.7" stroke="#5c5c5c" stroke-width="1"/>
<text x="66.5" y="585.3" font-size="14" font-weight="bold" text-anchor="end">-0,01</text>
<line x1="68" y1="556.9" x2="71.5" y2="556.9" stroke="#5c5c5c" stroke-width="1"/>
<text x="66.5" y="560.5" font-size="14" font-weight="bold" text-anchor="end">0,00</text>
<line x1="68" y1="532.1" x2="71.5" y2="532.1" stroke="#5c5c5c" stroke-width="1"/>
<text x="66.5" y="535.7" font-size="14" font-weight="bold" text-anchor="end">0,01</text>
<line x1="68" y1="507.3" x2="71.5" y2="507.3" stroke="#5c5c5c" stroke-width="1"/>
<text x="66.5" y="510.9" font-size="14" font-weight="bold" text-anchor="end">0,02</text>
<path d="M93.2 413.8 L94.2 414.15 L95.2 414.44 L96.2 414.63 L97.2 414.77 L98.2 414.89 L99.2 414.98 L100.2 415 L101.2 415.01 L102.2 415.01 L103.2 415.02 L104.2 415.02 L105.2 415.03 L106.2 415.03 L107.2 415.03 L108.2 415.04 L109.2 415.04 L110.2 415.05 L111.2 415.05 L112.2 415.05 L113.2 415.06 L114.2 415.06 L115.2 415.06 L116.2 415.06 L117.2 415.07 L118.2 415.07 L119.2 415.07 L120.2 415.07 L121.2 415.08 L122.2 415.08 L123.2 415.08 L124.2 415.08 L125.2 415.08 L126.2 415.09 L127.2 415.09 L128.2 415.09 L129.2 415.09 L130.2 415.09 L131.2 415.09 L132.2 415.09 L133.2 415.09 L134.2 415.09 L135.2 415.1 L136.2 415.1 L137.2 415.1 L138.2 415.1 L139.2 415.1 L140.2 415.1 L141.2 415.1 L142.2 415.1 L143.2 415.1 L144.2 415.1 L145.2 415.1 L146.2 415.1 L147.2 415.1 L148.2 415.1 L149.2 415.1 L150.2 415.1 L151.2 415.1 L152.2 415.1 L153.2 415.1 L154.2 415.1 L155.2 415.1 L156.2 415.1 L157.2 415.1 L158.2 415.1 L159.2 415.1 L160.2 415.1 L161.2 415.1 L162.2 415.1 L163.2 415.1 L164.2 415.1 L165.2 415.1 L166.2 415.1 L167.2 415.1 L168.2 415.1 L169.2 415.1 L170.2 415.1 L171.2 415.1 L172.2 415.1 L173.2 415.1 L174.2 415.1 L175.2 415.1 L176.2 415.1 L177.2 415.1 L178.2 415.1 L179.2 415.1 L180.2 415.1 L181.2 415.1 L182.2 415.1 L183.2 415.1 L184.2 415.1 L185.2 415.1 L186.2 415.1 L187.2 415.1 L188.2 415.1 L189.2 415.1 L190.2 415.1 L191.2 415.1 L192.2 415.1 L193.2 415.1 L194.2 415.1 L195.2 415.1 L196.2 415.1 L197.2 415.1 L198.2 415.1 L199.2 415.1 L200.2 415.1 L201.2 415.1 L202.2 415.1 L203.2 415.1 L204.2 415.1 L205.2 415.1 L206.2 415.1 L207.2 415.1 L208.2 415.1 L209.2 415.1 L210.2 415.1 L211.2 415.1 L212.2 415.1 L213.2 415.1 L214.2 415.1 L215.2 415.1 L216.2 415.1 L217.2 415.1 L218.2 415.1 L219.2 415.1 L220.2 415.1 L221.2 415.1 L222.2 415.1 L223.2 415.1 L224.2 415.1 L225.2 415.1 L226.2 415.1 L227.2 415.1 L228.2 415.1 L229.2 415.1 L230.2 415.1 L231.2 415.1 L232.2 415.1 L233.2 415.1 L234.2 415.1 L235.2 415.1 L236.2 415.1 L237.2 415.1 L238.2 415.1 L239.2 415.1 L240.2 415.1 L241.2 415.1 L242.2 415.1 L243.2 415.1 L244.2 415.1 L245.2 415.1 L246.2 415.1 L247.2 415.1 L248.2 415.1 L249.2 415.1 L250.2 415.1 L251.2 415.1 L252.2 415.1 L253.2 415.1 L254.2 415.1 L255.2 415.1 L256.2 415.1 L257.2 415.1 L258.2 415.1 L259.2 415.1 L260.2 415.1 L261.2 415.1 L262.2 415.1 L263.2 415.1 L264.2 415.1 L265.2 415.1 L266.2 415.1 L267.2 415.1 L268.2 415.1 L269.2 415.1 L270.2 415.1 L271.2 415.1 L272.2 415.1 L273.2 415.1 L274.2 415.1 L275.2 415.1 L276.2 415.1 L277.2 415.1 L278.2 415.1 L279.2 415.1 L280.2 415.1 L281.2 415.1 L282.2 415.1 L283.2 415.1 L284.2 415.1 L285.2 415.1 L286.2 415.1 L287.2 415.1 L288.2 415.1 L289.2 415.1 L290.2 415.1 L291.2 415.1 L292.2 415.1 L293.2 415.1 L294.2 415.1 L295.2 415.1 L296.2 415.1 L297.2 415.1 L298.2 415.1 L299.2 415.1 L300.2 415.1 L301.2 415.1 L302.2 415.1 L303.2 415.1 L304.2 415.1 L305.2 415.1 L306.2 415.1 L307.2 415.1 L308.2 415.1 L309.2 415.1 L309.8 415.1" fill="none" stroke="#111" stroke-width="1.7" stroke-linejoin="round"/>
<path d="M93.2 424.8 L94.2 424.74 L95.2 424.68 L96.2 424.62 L97.2 424.56 L98.2 424.5 L99.2 424.44 L100.2 424.38 L101.2 424.33 L102.2 424.28 L103.2 424.23 L104.2 424.18 L105.2 424.14 L106.2 424.1 L107.2 424.07 L108.2 424.04 L109.2 424.02 L110.2 424 L111.2 423.98 L112.2 423.96 L113.2 423.95 L114.2 423.93 L115.2 423.91 L116.2 423.9 L117.2 423.89 L118.2 423.87 L119.2 423.86 L120.2 423.84 L121.2 423.83 L122.2 423.82 L123.2 423.81 L124.2 423.8 L125.2 423.79 L126.2 423.78 L127.2 423.77 L128.2 423.76 L129.2 423.75 L130.2 423.74 L131.2 423.74 L132.2 423.73 L133.2 423.72 L134.2 423.72 L135.2 423.71 L136.2 423.71 L137.2 423.71 L138.2 423.7 L139.2 423.7 L140.2 423.7 L141.2 423.7 L142.2 423.7 L143.2 423.7 L144.2 423.69 L145.2 423.69 L146.2 423.69 L147.2 423.69 L148.2 423.69 L149.2 423.69 L150.2 423.69 L151.2 423.69 L152.2 423.68 L153.2 423.68 L154.2 423.68 L155.2 423.68 L156.2 423.68 L157.2 423.68 L158.2 423.68 L159.2 423.68 L160.2 423.67 L161.2 423.67 L162.2 423.67 L163.2 423.67 L164.2 423.67 L165.2 423.67 L166.2 423.67 L167.2 423.67 L168.2 423.67 L169.2 423.66 L170.2 423.66 L171.2 423.66 L172.2 423.66 L173.2 423.66 L174.2 423.66 L175.2 423.66 L176.2 423.66 L177.2 423.66 L178.2 423.65 L179.2 423.65 L180.2 423.65 L181.2 423.65 L182.2 423.65 L183.2 423.65 L184.2 423.65 L185.2 423.65 L186.2 423.65 L187.2 423.65 L188.2 423.65 L189.2 423.64 L190.2 423.64 L191.2 423.64 L192.2 423.64 L193.2 423.64 L194.2 423.64 L195.2 423.64 L196.2 423.64 L197.2 423.64 L198.2 423.64 L199.2 423.64 L200.2 423.64 L201.2 423.64 L202.2 423.63 L203.2 423.63 L204.2 423.63 L205.2 423.63 L206.2 423.63 L207.2 423.63 L208.2 423.63 L209.2 423.63 L210.2 423.63 L211.2 423.63 L212.2 423.63 L213.2 423.63 L214.2 423.63 L215.2 423.63 L216.2 423.63 L217.2 423.62 L218.2 423.62 L219.2 423.62 L220.2 423.62 L221.2 423.62 L222.2 423.62 L223.2 423.62 L224.2 423.62 L225.2 423.62 L226.2 423.62 L227.2 423.62 L228.2 423.62 L229.2 423.62 L230.2 423.62 L231.2 423.62 L232.2 423.62 L233.2 423.62 L234.2 423.62 L235.2 423.62 L236.2 423.61 L237.2 423.61 L238.2 423.61 L239.2 423.61 L240.2 423.61 L241.2 423.61 L242.2 423.61 L243.2 423.61 L244.2 423.61 L245.2 423.61 L246.2 423.61 L247.2 423.61 L248.2 423.61 L249.2 423.61 L250.2 423.61 L251.2 423.61 L252.2 423.61 L253.2 423.61 L254.2 423.61 L255.2 423.61 L256.2 423.61 L257.2 423.61 L258.2 423.61 L259.2 423.61 L260.2 423.61 L261.2 423.61 L262.2 423.61 L263.2 423.61 L264.2 423.61 L265.2 423.6 L266.2 423.6 L267.2 423.6 L268.2 423.6 L269.2 423.6 L270.2 423.6 L271.2 423.6 L272.2 423.6 L273.2 423.6 L274.2 423.6 L275.2 423.6 L276.2 423.6 L277.2 423.6 L278.2 423.6 L279.2 423.6 L280.2 423.6 L281.2 423.6 L282.2 423.6 L283.2 423.6 L284.2 423.6 L285.2 423.6 L286.2 423.6 L287.2 423.6 L288.2 423.6 L289.2 423.6 L290.2 423.6 L291.2 423.6 L292.2 423.6 L293.2 423.6 L294.2 423.6 L295.2 423.6 L296.2 423.6 L297.2 423.6 L298.2 423.6 L299.2 423.6 L300.2 423.6 L301.2 423.6 L302.2 423.6 L303.2 423.6 L304.2 423.6 L305.2 423.6 L306.2 423.6 L307.2 423.6 L308.2 423.6 L309.2 423.6 L309.8 423.6" fill="none" stroke="#1a1ad0" stroke-width="1.7" stroke-linejoin="round"/>
<path d="M92.8 414.3 L93.3 414.36 L93.8 414.43 L94.3 414.5 L94.8 414.57 L95.3 414.64 L95.8 414.71 L96.3 414.78 L96.8 414.86 L97.3 414.93 L97.6 414.98 M103.76 416.04 L104.26 416.13 L104.76 416.22 L105.26 416.32 L105.76 416.41 L106.26 416.51 L106.76 416.62 L107.26 416.73 L107.76 416.84 L108.26 416.97 L108.56 417.04 M114.72 418.56 L115.22 418.66 L115.72 418.75 L116.22 418.84 L116.72 418.92 L117.22 418.99 L117.72 419.07 L118.22 419.14 L118.72 419.2 L119.22 419.27 L119.52 419.31 M125.68 419.99 L126.18 420.04 L126.68 420.08 L127.18 420.13 L127.68 420.18 L128.18 420.22 L128.68 420.27 L129.18 420.31 L129.68 420.36 L130.18 420.41 L130.48 420.43 M136.64 421.05 L137.14 421.1 L137.64 421.16 L138.14 421.22 L138.64 421.28 L139.14 421.34 L139.64 421.41 L140.14 421.47 L140.64 421.53 L141.14 421.6 L141.44 421.64 M147.6 422.48 L148.1 422.55 L148.6 422.62 L149.1 422.69 L149.6 422.77 L150.1 422.84 L150.6 422.91 L151.1 422.99 L151.6 423.06 L152.1 423.14 L152.4 423.18 M158.56 424.13 L159.06 424.21 L159.56 424.29 L160.06 424.37 L160.56 424.45 L161.06 424.53 L161.56 424.61 L162.06 424.69 L162.56 424.77 L163.06 424.86 L163.36 424.9 M169.52 425.92 L170.02 426.01 L170.52 426.09 L171.02 426.17 L171.52 426.26 L172.02 426.34 L172.52 426.43 L173.02 426.51 L173.52 426.6 L174.02 426.68 L174.32 426.73 M180.48 427.77 L180.98 427.86 L181.48 427.94 L181.98 428.03 L182.48 428.11 L182.98 428.2 L183.48 428.28 L183.98 428.37 L184.48 428.45 L184.98 428.54 L185.28 428.59 M191.44 429.62 L191.94 429.7 L192.44 429.78 L192.94 429.86 L193.44 429.95 L193.94 430.03 L194.44 430.11 L194.94 430.19 L195.44 430.27 L195.94 430.35 L196.24 430.4 M202.4 431.38 L202.9 431.46 L203.4 431.53 L203.9 431.61 L204.4 431.69 L204.9 431.77 L205.4 431.85 L205.9 431.93 L206.4 432.01 L206.9 432.08 L207.2 432.13 M213.36 433.1 L213.86 433.18 L214.36 433.26 L214.86 433.33 L215.36 433.41 L215.86 433.49 L216.36 433.57 L216.86 433.65 L217.36 433.73 L217.86 433.8 L218.16 433.85 M224.32 434.82 L224.82 434.9 L225.32 434.97 L225.82 435.05 L226.32 435.13 L226.82 435.21 L227.32 435.29 L227.82 435.37 L228.32 435.44 L228.82 435.52 L229.12 435.57 M235.28 436.53 L235.78 436.61 L236.28 436.69 L236.78 436.77 L237.28 436.85 L237.78 436.92 L238.28 437 L238.78 437.08 L239.28 437.16 L239.78 437.24 L240.08 437.28 M246.24 438.24 L246.74 438.32 L247.24 438.4 L247.74 438.48 L248.24 438.56 L248.74 438.63 L249.24 438.71 L249.74 438.79 L250.24 438.87 L250.74 438.95 L251.04 438.99 M257.2 439.95 L257.7 440.03 L258.2 440.11 L258.7 440.19 L259.2 440.26 L259.7 440.34 L260.2 440.42 L260.7 440.5 L261.2 440.58 L261.7 440.65 L262 440.7 M268.16 441.66 L268.66 441.74 L269.16 441.81 L269.66 441.89 L270.16 441.97 L270.66 442.05 L271.16 442.12 L271.66 442.2 L272.16 442.28 L272.66 442.36 L272.96 442.4 M279.12 443.36 L279.62 443.44 L280.12 443.51 L280.62 443.59 L281.12 443.67 L281.62 443.75 L282.12 443.82 L282.62 443.9 L283.12 443.98 L283.62 444.06 L283.92 444.1 M290.08 445.06 L290.58 445.13 L291.08 445.21 L291.58 445.29 L292.08 445.37 L292.58 445.44 L293.08 445.52 L293.58 445.6 L294.08 445.68 L294.58 445.75 L294.88 445.8 M301.04 446.75 L301.54 446.83 L302.04 446.9 L302.54 446.98 L303.04 447.06 L303.54 447.14 L304.04 447.21 L304.54 447.29 L305.04 447.37 L305.54 447.44 L305.84 447.49" fill="none" stroke="#111" stroke-width="1.7" stroke-linejoin="round"/>
<path d="M92.8 424 L93.3 423.91 L93.8 423.82 L94.3 423.73 L94.8 423.63 L95.3 423.54 L95.8 423.45 L96.3 423.36 L96.8 423.27 L97.3 423.17 L97.6 423.12 M103.76 421.97 L104.26 421.87 L104.76 421.78 L105.26 421.68 L105.76 421.59 L106.26 421.49 L106.76 421.4 L107.26 421.3 L107.76 421.2 L108.26 421.1 L108.56 421.04 M114.72 419.84 L115.22 419.75 L115.72 419.66 L116.22 419.57 L116.72 419.48 L117.22 419.39 L117.72 419.31 L118.22 419.22 L118.72 419.13 L119.22 419.05 L119.52 419 M125.68 418.01 L126.18 417.93 L126.68 417.85 L127.18 417.78 L127.68 417.7 L128.18 417.62 L128.68 417.55 L129.18 417.47 L129.68 417.39 L130.18 417.32 L130.48 417.27 M136.64 416.33 L137.14 416.26 L137.64 416.18 L138.14 416.1 L138.64 416.02 L139.14 415.95 L139.64 415.87 L140.14 415.79 L140.64 415.71 L141.14 415.64 L141.44 415.59 M147.6 414.63 L148.1 414.55 L148.6 414.48 L149.1 414.4 L149.6 414.32 L150.1 414.24 L150.6 414.17 L151.1 414.09 L151.6 414.01 L152.1 413.93 L152.4 413.89 M158.56 412.93 L159.06 412.86 L159.56 412.78 L160.06 412.7 L160.56 412.62 L161.06 412.55 L161.56 412.47 L162.06 412.39 L162.56 412.32 L163.06 412.24 L163.36 412.19 M169.52 411.25 L170.02 411.17 L170.52 411.09 L171.02 411.02 L171.52 410.94 L172.02 410.86 L172.52 410.79 L173.02 410.71 L173.52 410.63 L174.02 410.56 L174.32 410.51 M180.48 409.57 L180.98 409.49 L181.48 409.41 L181.98 409.34 L182.48 409.26 L182.98 409.19 L183.48 409.11 L183.98 409.03 L184.48 408.96 L184.98 408.88 L185.28 408.83 M191.44 407.9 L191.94 407.82 L192.44 407.75 L192.94 407.67 L193.44 407.59 L193.94 407.52 L194.44 407.44 L194.94 407.37 L195.44 407.29 L195.94 407.21 L196.24 407.17 M202.4 406.24 L202.9 406.16 L203.4 406.09 L203.9 406.01 L204.4 405.94 L204.9 405.86 L205.4 405.78 L205.9 405.71 L206.4 405.63 L206.9 405.56 L207.2 405.51 M213.36 404.58 L213.86 404.51 L214.36 404.43 L214.86 404.36 L215.36 404.28 L215.86 404.21 L216.36 404.13 L216.86 404.06 L217.36 403.98 L217.86 403.91 L218.16 403.86 M224.32 402.93 L224.82 402.86 L225.32 402.78 L225.82 402.71 L226.32 402.63 L226.82 402.56 L227.32 402.48 L227.82 402.41 L228.32 402.33 L228.82 402.26 L229.12 402.21 M235.28 401.29 L235.78 401.22 L236.28 401.14 L236.78 401.07 L237.28 400.99 L237.78 400.92 L238.28 400.84 L238.78 400.77 L239.28 400.69 L239.78 400.62 L240.08 400.57 M246.24 399.66 L246.74 399.58 L247.24 399.51 L247.74 399.43 L248.24 399.36 L248.74 399.28 L249.24 399.21 L249.74 399.13 L250.24 399.06 L250.74 398.99 L251.04 398.94 M257.2 398.03 L257.7 397.95 L258.2 397.88 L258.7 397.8 L259.2 397.73 L259.7 397.65 L260.2 397.58 L260.7 397.51 L261.2 397.43 L261.7 397.36 L262 397.31 M268.16 396.4 L268.66 396.33 L269.16 396.25 L269.66 396.18 L270.16 396.11 L270.66 396.03 L271.16 395.96 L271.66 395.88 L272.16 395.81 L272.66 395.74 L272.96 395.69 M279.12 394.78 L279.62 394.71 L280.12 394.64 L280.62 394.56 L281.12 394.49 L281.62 394.42 L282.12 394.34 L282.62 394.27 L283.12 394.2 L283.62 394.12 L283.92 394.08 M290.08 393.18 L290.58 393.1 L291.08 393.03 L291.58 392.96 L292.08 392.88 L292.58 392.81 L293.08 392.74 L293.58 392.66 L294.08 392.59 L294.58 392.52 L294.88 392.47 M301.04 391.57 L301.54 391.5 L302.04 391.43 L302.54 391.36 L303.04 391.28 L303.54 391.21 L304.04 391.14 L304.54 391.06 L305.04 390.99 L305.54 390.92 L305.84 390.88" fill="none" stroke="#1a1ad0" stroke-width="1.7" stroke-linejoin="round"/>
<path d="M93.1 544.4 L94.1 549.28 L95.1 552.5 L96.1 554.17 L97.1 555.32 L98.1 555.94 L99.1 556.35 L100.1 556.63 L101.1 556.8 L102.1 556.9 L103.1 556.99 L104.1 557.07 L105.1 557.13 L106.1 557.17 L107.1 557.19 L108.1 557.2 L109.1 557.2 L110.1 557.2 L111.1 557.2 L112.1 557.2 L113.1 557.2 L114.1 557.2 L115.1 557.2 L116.1 557.2 L117.1 557.2 L118.1 557.2 L119.1 557.2 L120.1 557.2 L121.1 557.2 L122.1 557.2 L123.1 557.2 L124.1 557.2 L125.1 557.2 L126.1 557.2 L127.1 557.2 L128.1 557.2 L129.1 557.2 L130.1 557.2 L131.1 557.2 L132.1 557.2 L133.1 557.2 L134.1 557.2 L135.1 557.2 L136.1 557.2 L137.1 557.2 L138.1 557.2 L139.1 557.2 L140.1 557.2 L141.1 557.2 L142.1 557.2 L143.1 557.2 L144.1 557.2 L145.1 557.2 L146.1 557.2 L147.1 557.2 L148.1 557.2 L149.1 557.2 L150.1 557.2 L151.1 557.2 L152.1 557.2 L153.1 557.2 L154.1 557.2 L155.1 557.2 L156.1 557.2 L157.1 557.2 L158.1 557.2 L159.1 557.2 L160.1 557.2 L161.1 557.2 L162.1 557.2 L163.1 557.2 L164.1 557.2 L165.1 557.2 L166.1 557.2 L167.1 557.2 L168.1 557.2 L169.1 557.2 L170.1 557.2 L171.1 557.2 L172.1 557.2 L173.1 557.2 L174.1 557.2 L175.1 557.2 L176.1 557.2 L177.1 557.2 L178.1 557.2 L179.1 557.2 L180.1 557.2 L181.1 557.2 L182.1 557.2 L183.1 557.19 L184.1 557.19 L185.1 557.19 L186.1 557.19 L187.1 557.19 L188.1 557.19 L189.1 557.19 L190.1 557.19 L191.1 557.19 L192.1 557.19 L193.1 557.19 L194.1 557.19 L195.1 557.19 L196.1 557.19 L197.1 557.19 L198.1 557.19 L199.1 557.19 L200.1 557.19 L201.1 557.19 L202.1 557.19 L203.1 557.19 L204.1 557.19 L205.1 557.19 L206.1 557.19 L207.1 557.19 L208.1 557.19 L209.1 557.19 L210.1 557.19 L211.1 557.19 L212.1 557.19 L213.1 557.19 L214.1 557.19 L215.1 557.19 L216.1 557.18 L217.1 557.18 L218.1 557.18 L219.1 557.18 L220.1 557.18 L221.1 557.18 L222.1 557.18 L223.1 557.18 L224.1 557.18 L225.1 557.18 L226.1 557.18 L227.1 557.18 L228.1 557.18 L229.1 557.18 L230.1 557.18 L231.1 557.18 L232.1 557.18 L233.1 557.18 L234.1 557.18 L235.1 557.17 L236.1 557.17 L237.1 557.17 L238.1 557.17 L239.1 557.17 L240.1 557.17 L241.1 557.17 L242.1 557.17 L243.1 557.17 L244.1 557.17 L245.1 557.17 L246.1 557.17 L247.1 557.17 L248.1 557.17 L249.1 557.17 L250.1 557.17 L251.1 557.16 L252.1 557.16 L253.1 557.16 L254.1 557.16 L255.1 557.16 L256.1 557.16 L257.1 557.16 L258.1 557.16 L259.1 557.16 L260.1 557.16 L261.1 557.16 L262.1 557.16 L263.1 557.15 L264.1 557.15 L265.1 557.15 L266.1 557.15 L267.1 557.15 L268.1 557.15 L269.1 557.15 L270.1 557.15 L271.1 557.15 L272.1 557.15 L273.1 557.15 L274.1 557.14 L275.1 557.14 L276.1 557.14 L277.1 557.14 L278.1 557.14 L279.1 557.14 L280.1 557.14 L281.1 557.14 L282.1 557.14 L283.1 557.13 L284.1 557.13 L285.1 557.13 L286.1 557.13 L287.1 557.13 L288.1 557.13 L289.1 557.13 L290.1 557.13 L291.1 557.13 L292.1 557.12 L293.1 557.12 L294.1 557.12 L295.1 557.12 L296.1 557.12 L297.1 557.12 L298.1 557.12 L299.1 557.12 L300.1 557.11 L301.1 557.11 L302.1 557.11 L303.1 557.11 L304.1 557.11 L305.1 557.11 L306.1 557.11 L307.1 557.1 L308.1 557.1 L309.1 557.1 L309.8 557.1" fill="none" stroke="#c41a22" stroke-width="1.7" stroke-linejoin="round"/>
<path d="M93.1 544.4 L93.6 546.84 L94.1 549.05 L94.6 550.73 L94.74 551.07 M100.9 552.7 L101.4 552.7 L101.9 552.7 L102.4 552.7 L102.9 552.7 L103.4 552.7 L103.9 552.7 L104.4 552.7 L104.9 552.7 L105.4 552.7 L105.7 552.7 M111.86 552.7 L112.36 552.7 L112.86 552.7 L113.36 552.7 L113.86 552.7 L114.36 552.7 L114.86 552.7 L115.36 552.7 L115.86 552.7 L116.36 552.7 L116.66 552.7 M122.82 552.7 L123.32 552.7 L123.82 552.7 L124.32 552.7 L124.82 552.7 L125.32 552.7 L125.82 552.7 L126.32 552.7 L126.82 552.7 L127.32 552.7 L127.62 552.7 M133.78 552.7 L134.28 552.7 L134.78 552.7 L135.28 552.7 L135.78 552.69 L136.28 552.69 L136.78 552.69 L137.28 552.69 L137.78 552.69 L138.28 552.69 L138.58 552.69 M144.74 552.69 L145.24 552.69 L145.74 552.69 L146.24 552.69 L146.74 552.69 L147.24 552.69 L147.74 552.69 L148.24 552.69 L148.74 552.69 L149.24 552.69 L149.54 552.69 M155.7 552.68 L156.2 552.68 L156.7 552.68 L157.2 552.68 L157.7 552.68 L158.2 552.68 L158.7 552.68 L159.2 552.68 L159.7 552.68 L160.2 552.68 L160.5 552.68 M166.66 552.67 L167.16 552.67 L167.66 552.67 L168.16 552.67 L168.66 552.67 L169.16 552.67 L169.66 552.67 L170.16 552.66 L170.66 552.66 L171.16 552.66 L171.46 552.66 M177.62 552.65 L178.12 552.65 L178.62 552.65 L179.12 552.65 L179.62 552.65 L180.12 552.65 L180.62 552.65 L181.12 552.65 L181.62 552.64 L182.12 552.64 L182.42 552.64 M188.58 552.63 L189.08 552.63 L189.58 552.63 L190.08 552.63 L190.58 552.62 L191.08 552.62 L191.58 552.62 L192.08 552.62 L192.58 552.62 L193.08 552.62 L193.38 552.62 M199.54 552.6 L200.04 552.6 L200.54 552.6 L201.04 552.6 L201.54 552.59 L202.04 552.59 L202.54 552.59 L203.04 552.59 L203.54 552.59 L204.04 552.59 L204.34 552.59 M210.5 552.57 L211 552.56 L211.5 552.56 L212 552.56 L212.5 552.56 L213 552.56 L213.5 552.55 L214 552.55 L214.5 552.55 L215 552.55 L215.3 552.55 M221.46 552.52 L221.96 552.52 L222.46 552.52 L222.96 552.52 L223.46 552.51 L223.96 552.51 L224.46 552.51 L224.96 552.51 L225.46 552.5 L225.96 552.5 L226.26 552.5 M232.42 552.47 L232.92 552.47 L233.42 552.46 L233.92 552.46 L234.42 552.46 L234.92 552.46 L235.42 552.45 L235.92 552.45 L236.42 552.45 L236.92 552.45 L237.22 552.44 M243.38 552.41 L243.88 552.41 L244.38 552.4 L244.88 552.4 L245.38 552.4 L245.88 552.39 L246.38 552.39 L246.88 552.39 L247.38 552.38 L247.88 552.38 L248.18 552.38 M254.34 552.34 L254.84 552.33 L255.34 552.33 L255.84 552.33 L256.34 552.32 L256.84 552.32 L257.34 552.32 L257.84 552.31 L258.34 552.31 L258.84 552.31 L259.14 552.3 M265.3 552.26 L265.8 552.25 L266.3 552.25 L266.8 552.24 L267.3 552.24 L267.8 552.24 L268.3 552.23 L268.8 552.23 L269.3 552.22 L269.8 552.22 L270.1 552.22 M276.26 552.16 L276.76 552.16 L277.26 552.15 L277.76 552.15 L278.26 552.15 L278.76 552.14 L279.26 552.14 L279.76 552.13 L280.26 552.13 L280.76 552.12 L281.06 552.12 M287.22 552.06 L287.72 552.05 L288.22 552.05 L288.72 552.04 L289.22 552.04 L289.72 552.03 L290.22 552.03 L290.72 552.02 L291.22 552.02 L291.72 552.01 L292.02 552.01 M298.18 551.94 L298.68 551.93 L299.18 551.93 L299.68 551.92 L300.18 551.92 L300.68 551.91 L301.18 551.91 L301.68 551.9 L302.18 551.89 L302.68 551.89 L302.98 551.88 M309.14 551.81 L309.64 551.8 L309.8 551.8" fill="none" stroke="#c41a22" stroke-width="1.7" stroke-linejoin="round"/>
<text x="321.3" y="392.9" font-size="14" font-weight="bold" text-anchor="middle">6</text>
<text x="321.3" y="418.4" font-size="14" font-weight="bold" text-anchor="middle">1</text>
<text x="321.3" y="433.9" font-size="14" font-weight="bold" text-anchor="middle">3</text>
<text x="321.3" y="456.9" font-size="14" font-weight="bold" text-anchor="middle">4</text>
<text x="317.8" y="553.4" font-size="14" font-weight="bold" text-anchor="middle">5</text>
<text x="317.8" y="564.9" font-size="14" font-weight="bold" text-anchor="middle">2</text>
<text transform="translate(82.6 391.1) scale(0.93 1)" font-size="16.6" stroke="#000" stroke-width="0.3">NADP-GDH</text>
<line x1="83" y1="394" x2="165" y2="394" stroke="#111" stroke-width="1.5"/>
<text transform="translate(15.4 475.5) rotate(-90)" font-size="20" font-weight="bold" text-anchor="middle">Metabolite,&#160;&#160;&#160;mmol/l<tspan font-size="11.6" dy="6">RBCs</tspan></text>
<text x="165" y="627.8" font-size="18" font-weight="bold" text-anchor="start">Time,&#160;&#160;&#160;h</text>
<rect x="88.5" y="462.4" width="226.8" height="63.6" fill="none" stroke="#333" stroke-width="1.4"/>
<text x="91.8" y="477.1" font-size="10" font-weight="bold" text-anchor="start">AMM<tspan font-size="6" dy="3.5">0</tspan><tspan dy="-3.5">=0.5 mM</tspan></text>
<text x="92.3" y="490.8" font-size="10" font-weight="bold" text-anchor="start">1</text>
<line x1="100" y1="487.4" x2="124.5" y2="487.4" stroke="#111" stroke-width="1.6"/>
<text x="127.7" y="490.8" font-size="10" font-weight="bold">AMM (P<tspan font-size="6" dy="3.5">AKG</tspan><tspan dy="-3.5">=1);</tspan></text>
<text x="199.8" y="490.8" font-size="10" font-weight="bold" text-anchor="start">4</text>
<line x1="208.3" y1="487.4" x2="234" y2="487.4" stroke="#111" stroke-width="1.6" stroke-dasharray="5.2 5.9"/>
<text x="236.6" y="490.8" font-size="10" font-weight="bold">AMM (P<tspan font-size="6" dy="3.5">AKG</tspan><tspan dy="-3.5">=100)</tspan></text>
<text x="92.3" y="504.5" font-size="10" font-weight="bold" text-anchor="start">2</text>
<line x1="100" y1="501.1" x2="124.5" y2="501.1" stroke="#c41a22" stroke-width="1.6"/>
<text x="127.7" y="504.5" font-size="10" font-weight="bold">AKG (P<tspan font-size="6" dy="3.5">AKG</tspan><tspan dy="-3.5">=1);</tspan></text>
<text x="197.8" y="504.5" font-size="10" font-weight="bold" text-anchor="start">5</text>
<line x1="205.9" y1="501.1" x2="232" y2="501.1" stroke="#c41a22" stroke-width="1.6" stroke-dasharray="5.2 5.9"/>
<text x="234.2" y="504.5" font-size="10" font-weight="bold">AKG (P<tspan font-size="6" dy="3.5">AKG</tspan><tspan dy="-3.5">=100)</tspan></text>
<text x="92.3" y="518.2" font-size="10" font-weight="bold" text-anchor="start">3</text>
<line x1="100" y1="514.8" x2="124.5" y2="514.8" stroke="#1a1ad0" stroke-width="1.6"/>
<text x="127.7" y="518.2" font-size="10" font-weight="bold">GLU (P<tspan font-size="6" dy="3.5">AKG</tspan><tspan dy="-3.5">=1);</tspan></text>
<text x="196.8" y="518.2" font-size="10" font-weight="bold" text-anchor="start">6</text>
<line x1="204.6" y1="514.8" x2="230.3" y2="514.8" stroke="#1a1ad0" stroke-width="1.6" stroke-dasharray="5.2 5.9"/>
<text x="233.3" y="518.2" font-size="10" font-weight="bold">GLU (P<tspan font-size="6" dy="3.5">AKG</tspan><tspan dy="-3.5">=100)</tspan></text>
<text x="509.5" y="358.5" font-size="32" font-weight="bold" text-anchor="start">d</text>
<line x1="461.5" y1="380.6" x2="461.5" y2="499.5" stroke="#5c5c5c" stroke-width="1"/>
<line x1="461.5" y1="502.7" x2="461.5" y2="582.2" stroke="#5c5c5c" stroke-width="1"/>
<line x1="458" y1="500" x2="465" y2="496.8" stroke="#555" stroke-width="1"/>
<line x1="458" y1="503.3" x2="465" y2="500.1" stroke="#555" stroke-width="1"/>
<line x1="461.5" y1="582.1" x2="721.3" y2="582.1" stroke="#959595" stroke-width="1.5"/>
<line x1="461.38" y1="582.1" x2="461.38" y2="584.1" stroke="#959595" stroke-width="1"/>
<line x1="483" y1="582.1" x2="483" y2="585.7" stroke="#959595" stroke-width="1"/>
<text x="483" y="597.9" font-size="14" font-weight="bold" text-anchor="middle">0,0</text>
<line x1="504.62" y1="582.1" x2="504.62" y2="584.1" stroke="#959595" stroke-width="1"/>
<line x1="526.25" y1="582.1" x2="526.25" y2="585.7" stroke="#959595" stroke-width="1"/>
<text x="526.25" y="597.9" font-size="14" font-weight="bold" text-anchor="middle">0,2</text>
<line x1="547.88" y1="582.1" x2="547.88" y2="584.1" stroke="#959595" stroke-width="1"/>
<line x1="569.5" y1="582.1" x2="569.5" y2="585.7" stroke="#959595" stroke-width="1"/>
<text x="569.5" y="597.9" font-size="14" font-weight="bold" text-anchor="middle">0,4</text>
<line x1="591.12" y1="582.1" x2="591.12" y2="584.1" stroke="#959595" stroke-width="1"/>
<line x1="612.75" y1="582.1" x2="612.75" y2="585.7" stroke="#959595" stroke-width="1"/>
<text x="612.75" y="597.9" font-size="14" font-weight="bold" text-anchor="middle">0,6</text>
<line x1="634.38" y1="582.1" x2="634.38" y2="584.1" stroke="#959595" stroke-width="1"/>
<line x1="656" y1="582.1" x2="656" y2="585.7" stroke="#959595" stroke-width="1"/>
<text x="656" y="597.9" font-size="14" font-weight="bold" text-anchor="middle">0,8</text>
<line x1="677.62" y1="582.1" x2="677.62" y2="584.1" stroke="#959595" stroke-width="1"/>
<line x1="699.25" y1="582.1" x2="699.25" y2="585.7" stroke="#959595" stroke-width="1"/>
<text x="699.25" y="597.9" font-size="14" font-weight="bold" text-anchor="middle">1,0</text>
<line x1="720.88" y1="582.1" x2="720.88" y2="584.1" stroke="#959595" stroke-width="1"/>
<line x1="458" y1="471.6" x2="461.5" y2="471.6" stroke="#5c5c5c" stroke-width="1"/>
<text x="456.5" y="475.2" font-size="14" font-weight="bold" text-anchor="end">0,5</text>
<line x1="458" y1="426.1" x2="461.5" y2="426.1" stroke="#5c5c5c" stroke-width="1"/>
<text x="456.5" y="429.7" font-size="14" font-weight="bold" text-anchor="end">1,0</text>
<line x1="458" y1="380.6" x2="461.5" y2="380.6" stroke="#5c5c5c" stroke-width="1"/>
<text x="456.5" y="384.2" font-size="14" font-weight="bold" text-anchor="end">1,5</text>
<line x1="459.5" y1="494.35" x2="461.5" y2="494.35" stroke="#5c5c5c" stroke-width="1"/>
<line x1="459.5" y1="448.85" x2="461.5" y2="448.85" stroke="#5c5c5c" stroke-width="1"/>
<line x1="459.5" y1="403.35" x2="461.5" y2="403.35" stroke="#5c5c5c" stroke-width="1"/>
<line x1="458" y1="573" x2="461.5" y2="573" stroke="#5c5c5c" stroke-width="1"/>
<text x="456.5" y="576.6" font-size="14" font-weight="bold" text-anchor="end">0,000</text>
<line x1="458" y1="551.1" x2="461.5" y2="551.1" stroke="#5c5c5c" stroke-width="1"/>
<text x="456.5" y="554.7" font-size="14" font-weight="bold" text-anchor="end">0,025</text>
<line x1="458" y1="529.2" x2="461.5" y2="529.2" stroke="#5c5c5c" stroke-width="1"/>
<text x="456.5" y="532.8" font-size="14" font-weight="bold" text-anchor="end">0,050</text>
<line x1="458" y1="507.3" x2="461.5" y2="507.3" stroke="#5c5c5c" stroke-width="1"/>
<text x="456.5" y="510.9" font-size="14" font-weight="bold" text-anchor="end">0,075</text>
<line x1="459.5" y1="562.05" x2="461.5" y2="562.05" stroke="#5c5c5c" stroke-width="1"/>
<line x1="459.5" y1="540.15" x2="461.5" y2="540.15" stroke="#5c5c5c" stroke-width="1"/>
<line x1="459.5" y1="518.25" x2="461.5" y2="518.25" stroke="#5c5c5c" stroke-width="1"/>
<path d="M483.2 472.2 L484.2 465.16 L485.2 461.35 L486.2 458.59 L487.2 455.31 L488.2 453.02 L489.2 451.37 L490.2 450.03 L491.2 448.86 L492.2 447.75 L493.2 446.73 L494.2 445.84 L495.2 445.1 L496.2 444.53 L497.2 444.06 L498.2 443.64 L499.2 443.27 L500.2 442.93 L501.2 442.62 L502.2 442.3 L503.2 441.99 L504.2 441.69 L505.2 441.4 L506.2 441.12 L507.2 440.85 L508.2 440.59 L509.2 440.34 L510.2 440.09 L511.2 439.85 L512.2 439.62 L513.2 439.39 L514.2 439.17 L515.2 438.95 L516.2 438.75 L517.2 438.55 L518.2 438.35 L519.2 438.16 L520.2 437.96 L521.2 437.75 L522.2 437.54 L523.2 437.32 L524.2 437.1 L525.2 436.88 L526.2 436.65 L527.2 436.42 L528.2 436.19 L529.2 435.95 L530.2 435.72 L531.2 435.48 L532.2 435.24 L533.2 435 L534.2 434.76 L535.2 434.51 L536.2 434.27 L537.2 434.02 L538.2 433.78 L539.2 433.54 L540.2 433.29 L541.2 433.05 L542.2 432.81 L543.2 432.57 L544.2 432.33 L545.2 432.09 L546.2 431.85 L547.2 431.61 L548.2 431.36 L549.2 431.12 L550.2 430.88 L551.2 430.64 L552.2 430.4 L553.2 430.16 L554.2 429.92 L555.2 429.69 L556.2 429.45 L557.2 429.21 L558.2 428.97 L559.2 428.73 L560.2 428.49 L561.2 428.25 L562.2 428.01 L563.2 427.77 L564.2 427.54 L565.2 427.3 L566.2 427.06 L567.2 426.82 L568.2 426.58 L569.2 426.35 L570.2 426.11 L571.2 425.87 L572.2 425.63 L573.2 425.4 L574.2 425.16 L575.2 424.92 L576.2 424.68 L577.2 424.45 L578.2 424.21 L579.2 423.97 L580.2 423.74 L581.2 423.5 L582.2 423.26 L583.2 423.02 L584.2 422.79 L585.2 422.55 L586.2 422.31 L587.2 422.08 L588.2 421.84 L589.2 421.6 L590.2 421.37 L591.2 421.13 L592.2 420.89 L593.2 420.66 L594.2 420.42 L595.2 420.18 L596.2 419.95 L597.2 419.71 L598.2 419.47 L599.2 419.24 L600.2 419 L601.2 418.76 L602.2 418.53 L603.2 418.29 L604.2 418.05 L605.2 417.82 L606.2 417.58 L607.2 417.34 L608.2 417.1 L609.2 416.87 L610.2 416.63 L611.2 416.39 L612.2 416.15 L613.2 415.92 L614.2 415.68 L615.2 415.44 L616.2 415.2 L617.2 414.97 L618.2 414.73 L619.2 414.49 L620.2 414.25 L621.2 414.01 L622.2 413.78 L623.2 413.54 L624.2 413.3 L625.2 413.06 L626.2 412.82 L627.2 412.59 L628.2 412.35 L629.2 412.11 L630.2 411.87 L631.2 411.63 L632.2 411.39 L633.2 411.16 L634.2 410.92 L635.2 410.68 L636.2 410.44 L637.2 410.2 L638.2 409.97 L639.2 409.73 L640.2 409.49 L641.2 409.25 L642.2 409.01 L643.2 408.77 L644.2 408.54 L645.2 408.3 L646.2 408.06 L647.2 407.82 L648.2 407.58 L649.2 407.35 L650.2 407.11 L651.2 406.87 L652.2 406.63 L653.2 406.39 L654.2 406.16 L655.2 405.92 L656.2 405.68 L657.2 405.44 L658.2 405.2 L659.2 404.96 L660.2 404.73 L661.2 404.49 L662.2 404.25 L663.2 404.01 L664.2 403.77 L665.2 403.54 L666.2 403.3 L667.2 403.06 L668.2 402.82 L669.2 402.58 L670.2 402.34 L671.2 402.11 L672.2 401.87 L673.2 401.63 L674.2 401.39 L675.2 401.15 L676.2 400.92 L677.2 400.68 L678.2 400.44 L679.2 400.2 L680.2 399.96 L681.2 399.72 L682.2 399.49 L683.2 399.25 L684.2 399.01 L685.2 398.77 L686.2 398.53 L687.2 398.3 L688.2 398.06 L689.2 397.82 L690.2 397.58 L691.2 397.34 L692.2 397.11 L693.2 396.87 L694.2 396.63 L695.2 396.39 L696.2 396.15 L697.2 395.91 L698.2 395.68 L699.2 395.44 L700.2 395.2 L700.2 395.2" fill="none" stroke="#111" stroke-width="1.7" stroke-linejoin="round"/>
<path d="M482.4 511.5 L483.4 510.86 L484.4 510.43 L485.4 510.3 L486.4 510.42 L487.4 510.64 L488.4 510.88 L489.4 511.16 L490.4 511.33 L491.4 511.41 L492.4 511.46 L493.4 511.53 L494.4 511.66 L495.4 512 L496.4 512.1 L497.4 512.1 L498.4 512.1 L499.4 512.1 L500.4 512.1 L501.4 512.1 L502.4 512.1 L503.4 512.1 L504.4 512.1 L505.4 512.1 L506.4 512.1 L507.4 512.1 L508.4 512.1 L509.4 512.1 L510.4 512.1 L511.4 512.1 L512.4 512.1 L513.4 512.1 L514.4 512.1 L515.4 512.1 L516.4 512.1 L517.4 512.1 L518.4 512.1 L519.4 512.1 L520.4 512.1 L521.4 512.1 L522.4 512.1 L523.4 512.1 L524.4 512.1 L525.4 512.1 L526.4 512.1 L527.4 512.1 L528.4 512.1 L529.4 512.1 L530.4 512.1 L531.4 512.1 L532.4 512.1 L533.4 512.1 L534.4 512.1 L535.4 512.1 L536.4 512.1 L537.4 512.1 L538.4 512.1 L539.4 512.1 L540.4 512.1 L541.4 512.1 L542.4 512.1 L543.4 512.1 L544.4 512.1 L545.4 512.1 L546.4 512.1 L547.4 512.1 L548.4 512.1 L549.4 512.1 L550.4 512.1 L551.4 512.1 L552.4 512.1 L553.4 512.1 L554.4 512.1 L555.4 512.1 L556.4 512.1 L557.4 512.1 L558.4 512.1 L559.4 512.1 L560.4 512.1 L561.4 512.1 L562.4 512.1 L563.4 512.1 L564.4 512.1 L565.4 512.1 L566.4 512.1 L567.4 512.1 L568.4 512.1 L569.4 512.1 L570.4 512.1 L571.4 512.1 L572.4 512.1 L573.4 512.1 L574.4 512.1 L575.4 512.1 L576.4 512.1 L577.4 512.1 L578.4 512.1 L579.4 512.1 L580.4 512.1 L581.4 512.1 L582.4 512.1 L583.4 512.1 L584.4 512.1 L585.4 512.1 L586.4 512.1 L587.4 512.1 L588.4 512.1 L589.4 512.1 L590.4 512.1 L591.4 512.1 L592.4 512.1 L593.4 512.1 L594.4 512.1 L595.4 512.1 L596.4 512.1 L597.4 512.1 L598.4 512.1 L599.4 512.1 L600.4 512.1 L601.4 512.1 L602.4 512.1 L603.4 512.1 L604.4 512.1 L605.4 512.1 L606.4 512.1 L607.4 512.1 L608.4 512.1 L609.4 512.1 L610.4 512.1 L611.4 512.1 L612.4 512.1 L613.4 512.1 L614.4 512.1 L615.4 512.1 L616.4 512.1 L617.4 512.1 L618.4 512.1 L619.4 512.1 L620.4 512.1 L621.4 512.1 L622.4 512.1 L623.4 512.1 L624.4 512.1 L625.4 512.1 L626.4 512.1 L627.4 512.1 L628.4 512.1 L629.4 512.1 L630.4 512.1 L631.4 512.1 L632.4 512.1 L633.4 512.1 L634.4 512.1 L635.4 512.1 L636.4 512.1 L637.4 512.1 L638.4 512.1 L639.4 512.1 L640.4 512.1 L641.4 512.1 L642.4 512.1 L643.4 512.1 L644.4 512.1 L645.4 512.1 L646.4 512.1 L647.4 512.1 L648.4 512.1 L649.4 512.1 L650.4 512.1 L651.4 512.1 L652.4 512.1 L653.4 512.1 L654.4 512.1 L655.4 512.1 L656.4 512.1 L657.4 512.1 L658.4 512.1 L659.4 512.1 L660.4 512.1 L661.4 512.1 L662.4 512.1 L663.4 512.1 L664.4 512.1 L665.4 512.1 L666.4 512.1 L667.4 512.1 L668.4 512.1 L669.4 512.1 L670.4 512.1 L671.4 512.1 L672.4 512.1 L673.4 512.1 L674.4 512.1 L675.4 512.1 L676.4 512.1 L677.4 512.1 L678.4 512.1 L679.4 512.1 L680.4 512.1 L681.4 512.1 L682.4 512.1 L683.4 512.1 L684.4 512.1 L685.4 512.1 L686.4 512.1 L687.4 512.1 L688.4 512.1 L689.4 512.1 L690.4 512.1 L691.4 512.1 L692.4 512.1 L693.4 512.1 L694.4 512.1 L695.4 512.1 L696.4 512.1 L697.4 512.1 L698.4 512.1 L699.4 512.1 L700.3 512.1" fill="none" stroke="#b02a2a" stroke-width="1.7" stroke-linejoin="round"/>
<path d="M482.6 531.3 L483.6 531.3 L484.6 531.3 L485.6 531.3 L486.6 531.3 L487.6 531.3 L488.6 531.3 L489.6 531.3 L490.6 531.3 L491.6 531.3 L492.6 531.3 L493.6 531.3 L494.6 531.3 L495.6 531.3 L496.6 531.3 L497.6 531.3 L498.6 531.3 L499.6 531.3 L500.6 531.3 L501.6 531.3 L502.6 531.3 L503.6 531.3 L504.6 531.3 L505.6 531.3 L506.6 531.3 L507.6 531.3 L508.6 531.3 L509.6 531.3 L510.6 531.3 L511.6 531.3 L512.6 531.3 L513.6 531.3 L514.6 531.3 L515.6 531.3 L516.6 531.3 L517.6 531.3 L518.6 531.3 L519.6 531.3 L520.6 531.3 L521.6 531.3 L522.6 531.3 L523.6 531.3 L524.6 531.3 L525.6 531.3 L526.6 531.3 L527.6 531.3 L528.6 531.3 L529.6 531.3 L530.6 531.3 L531.6 531.3 L532.6 531.3 L533.6 531.3 L534.6 531.3 L535.6 531.3 L536.6 531.3 L537.6 531.3 L538.6 531.3 L539.6 531.3 L540.6 531.3 L541.6 531.3 L542.6 531.3 L543.6 531.3 L544.6 531.3 L545.6 531.3 L546.6 531.3 L547.6 531.3 L548.6 531.3 L549.6 531.3 L550.6 531.3 L551.6 531.3 L552.6 531.3 L553.6 531.3 L554.6 531.3 L555.6 531.3 L556.6 531.3 L557.6 531.3 L558.6 531.3 L559.6 531.3 L560.6 531.3 L561.6 531.3 L562.6 531.3 L563.6 531.3 L564.6 531.3 L565.6 531.3 L566.6 531.3 L567.6 531.3 L568.6 531.3 L569.6 531.3 L570.6 531.3 L571.6 531.3 L572.6 531.3 L573.6 531.3 L574.6 531.3 L575.6 531.3 L576.6 531.3 L577.6 531.3 L578.6 531.3 L579.6 531.3 L580.6 531.3 L581.6 531.3 L582.6 531.3 L583.6 531.3 L584.6 531.3 L585.6 531.3 L586.6 531.3 L587.6 531.3 L588.6 531.3 L589.6 531.3 L590.6 531.3 L591.6 531.3 L592.6 531.3 L593.6 531.3 L594.6 531.3 L595.6 531.3 L596.6 531.3 L597.6 531.3 L598.6 531.3 L599.6 531.3 L600.6 531.3 L601.6 531.3 L602.6 531.3 L603.6 531.3 L604.6 531.3 L605.6 531.3 L606.6 531.3 L607.6 531.3 L608.6 531.3 L609.6 531.3 L610.6 531.3 L611.6 531.3 L612.6 531.3 L613.6 531.3 L614.6 531.3 L615.6 531.3 L616.6 531.3 L617.6 531.3 L618.6 531.3 L619.6 531.3 L620.6 531.3 L621.6 531.3 L622.6 531.3 L623.6 531.3 L624.6 531.3 L625.6 531.3 L626.6 531.3 L627.6 531.3 L628.6 531.3 L629.6 531.3 L630.6 531.3 L631.6 531.3 L632.6 531.3 L633.6 531.3 L634.6 531.3 L635.6 531.3 L636.6 531.3 L637.6 531.3 L638.6 531.3 L639.6 531.3 L640.6 531.3 L641.6 531.3 L642.6 531.3 L643.6 531.3 L644.6 531.3 L645.6 531.3 L646.6 531.3 L647.6 531.3 L648.6 531.3 L649.6 531.3 L650.6 531.3 L651.6 531.3 L652.6 531.3 L653.6 531.3 L654.6 531.3 L655.6 531.3 L656.6 531.3 L657.6 531.3 L658.6 531.3 L659.6 531.3 L660.6 531.3 L661.6 531.3 L662.6 531.3 L663.6 531.3 L664.6 531.3 L665.6 531.3 L666.6 531.3 L667.6 531.3 L668.6 531.3 L669.6 531.3 L670.6 531.3 L671.6 531.3 L672.6 531.3 L673.6 531.3 L674.6 531.3 L675.6 531.3 L676.6 531.3 L677.6 531.3 L678.6 531.3 L679.6 531.3 L680.6 531.3 L681.6 531.3 L682.6 531.3 L683.6 531.3 L684.6 531.3 L685.6 531.3 L686.6 531.3 L687.6 531.3 L688.6 531.3 L689.6 531.3 L690.6 531.3 L691.6 531.3 L692.6 531.3 L693.6 531.3 L694.6 531.3 L695.6 531.3 L696.6 531.3 L697.6 531.3 L698.6 531.3 L699.6 531.3 L700.3 531.3" fill="none" stroke="#1a1ad0" stroke-width="1.7" stroke-linejoin="round"/>
<path d="M482.6 571 L483.6 571 L484.6 571 L485.6 571 L486.6 571 L487.6 571 L488.6 571 L489.6 571 L490.6 571 L491.6 571 L492.6 571 L493.6 571 L494.6 571 L495.6 571 L496.6 571 L497.6 571 L498.6 571 L499.6 571 L500.6 571 L501.6 571 L502.6 571 L503.6 571 L504.6 571 L505.6 571 L506.6 571 L507.6 571 L508.6 571 L509.6 571 L510.6 571 L511.6 571 L512.6 571 L513.6 571 L514.6 571 L515.6 571 L516.6 571 L517.6 571 L518.6 571 L519.6 571 L520.6 571 L521.6 571 L522.6 571 L523.6 571 L524.6 571 L525.6 571 L526.6 571 L527.6 571 L528.6 571 L529.6 571 L530.6 571 L531.6 571 L532.6 571 L533.6 571 L534.6 571 L535.6 571 L536.6 571 L537.6 571 L538.6 571 L539.6 571 L540.6 571 L541.6 571 L542.6 571 L543.6 571 L544.6 571 L545.6 571 L546.6 571 L547.6 571 L548.6 571 L549.6 571 L550.6 571 L551.6 571 L552.6 571 L553.6 571 L554.6 571 L555.6 571 L556.6 571 L557.6 571 L558.6 571 L559.6 571 L560.6 571 L561.6 571 L562.6 571 L563.6 571 L564.6 571 L565.6 571 L566.6 571 L567.6 571 L568.6 571 L569.6 571 L570.6 571 L571.6 571 L572.6 571 L573.6 571 L574.6 571 L575.6 571 L576.6 571 L577.6 571 L578.6 571 L579.6 571 L580.6 571 L581.6 571 L582.6 571 L583.6 571 L584.6 571 L585.6 571 L586.6 571 L587.6 571 L588.6 571 L589.6 571 L590.6 571 L591.6 571 L592.6 571 L593.6 571 L594.6 571 L595.6 571 L596.6 571 L597.6 571 L598.6 571 L599.6 571 L600.6 571 L601.6 571 L602.6 571 L603.6 571 L604.6 571 L605.6 571 L606.6 571 L607.6 571 L608.6 571 L609.6 571 L610.6 571 L611.6 571 L612.6 571 L613.6 571 L614.6 571 L615.6 571 L616.6 571 L617.6 571 L618.6 571 L619.6 571 L620.6 571 L621.6 571 L622.6 571 L623.6 571 L624.6 571 L625.6 571 L626.6 571 L627.6 571 L628.6 571 L629.6 571 L630.6 571 L631.6 571 L632.6 571 L633.6 571 L634.6 571 L635.6 571 L636.6 571 L637.6 571 L638.6 571 L639.6 571 L640.6 571 L641.6 571 L642.6 571 L643.6 571 L644.6 571 L645.6 571 L646.6 571 L647.6 571 L648.6 571 L649.6 571 L650.6 571 L651.6 571 L652.6 571 L653.6 571 L654.6 571 L655.6 571 L656.6 571 L657.6 571 L658.6 571 L659.6 571 L660.6 571 L661.6 571 L662.6 571 L663.6 571 L664.6 571 L665.6 571 L666.6 571 L667.6 571 L668.6 571 L669.6 571 L670.6 571 L671.6 571 L672.6 571 L673.6 571 L674.6 571 L675.6 571 L676.6 571 L677.6 571 L678.6 571 L679.6 571 L680.6 571 L681.6 571 L682.6 571 L683.6 571 L684.6 571 L685.6 571 L686.6 571 L687.6 571 L688.6 571 L689.6 571 L690.6 571 L691.6 571 L692.6 571 L693.6 571 L694.6 571 L695.6 571 L696.6 571 L697.6 571 L698.6 571 L699.6 571 L700.3 571" fill="none" stroke="#d42ad4" stroke-width="1.7" stroke-linejoin="round"/>
<path d="M482.9 490.3 L483.9 494.72 L484.8 498.7" fill="none" stroke="#2e7d2e" stroke-width="1.7" stroke-linejoin="round"/>
<path d="M489.6 503.4 L490.6 517.44 L491.6 526.55 L492.6 533.58 L493.6 540.33 L494.6 545.72 L495.6 549.19 L496.6 552.04 L497.6 554.29 L498.6 555.88 L499.6 557.01 L500.6 558 L501.6 558.85 L502.6 559.56 L503.6 560.12 L504.6 560.54 L505.6 560.84 L506.6 561.09 L507.6 561.33 L508.6 561.54 L509.6 561.71 L510.6 561.85 L511.6 561.95 L512.6 561.99 L513.6 562 L514.6 562 L515.6 562.01 L516.6 562.01 L517.6 562.01 L518.6 562.02 L519.6 562.02 L520.6 562.02 L521.6 562.02 L522.6 562.03 L523.6 562.03 L524.6 562.03 L525.6 562.03 L526.6 562.04 L527.6 562.04 L528.6 562.04 L529.6 562.04 L530.6 562.05 L531.6 562.05 L532.6 562.05 L533.6 562.05 L534.6 562.05 L535.6 562.06 L536.6 562.06 L537.6 562.06 L538.6 562.06 L539.6 562.06 L540.6 562.06 L541.6 562.07 L542.6 562.07 L543.6 562.07 L544.6 562.07 L545.6 562.07 L546.6 562.07 L547.6 562.07 L548.6 562.08 L549.6 562.08 L550.6 562.08 L551.6 562.08 L552.6 562.08 L553.6 562.08 L554.6 562.08 L555.6 562.08 L556.6 562.08 L557.6 562.09 L558.6 562.09 L559.6 562.09 L560.6 562.09 L561.6 562.09 L562.6 562.09 L563.6 562.09 L564.6 562.09 L565.6 562.09 L566.6 562.09 L567.6 562.09 L568.6 562.09 L569.6 562.09 L570.6 562.09 L571.6 562.09 L572.6 562.1 L573.6 562.1 L574.6 562.1 L575.6 562.1 L576.6 562.1 L577.6 562.1 L578.6 562.1 L579.6 562.1 L580.6 562.1 L581.6 562.1 L582.6 562.1 L583.6 562.1 L584.6 562.1 L585.6 562.1 L586.6 562.1 L587.6 562.1 L588.6 562.1 L589.6 562.1 L590.6 562.1 L591.6 562.1 L592.6 562.1 L593.6 562.1 L594.6 562.1 L595.6 562.1 L596.6 562.1 L597.6 562.1 L598.6 562.1 L599.6 562.1 L600.6 562.1 L601.6 562.1 L602.6 562.1 L603.6 562.1 L604.6 562.1 L605.6 562.1 L606.6 562.1 L607.6 562.1 L608.6 562.1 L609.6 562.1 L610.6 562.1 L611.6 562.1 L612.6 562.1 L613.6 562.1 L614.6 562.1 L615.6 562.1 L616.6 562.1 L617.6 562.1 L618.6 562.1 L619.6 562.1 L620.6 562.1 L621.6 562.1 L622.6 562.1 L623.6 562.09 L624.6 562.09 L625.6 562.09 L626.6 562.09 L627.6 562.09 L628.6 562.09 L629.6 562.09 L630.6 562.09 L631.6 562.09 L632.6 562.09 L633.6 562.09 L634.6 562.08 L635.6 562.08 L636.6 562.08 L637.6 562.08 L638.6 562.08 L639.6 562.08 L640.6 562.08 L641.6 562.07 L642.6 562.07 L643.6 562.07 L644.6 562.07 L645.6 562.07 L646.6 562.06 L647.6 562.06 L648.6 562.06 L649.6 562.06 L650.6 562.05 L651.6 562.05 L652.6 562.05 L653.6 562.05 L654.6 562.04 L655.6 562.04 L656.6 562.04 L657.6 562.03 L658.6 562.03 L659.6 562.03 L660.6 562.02 L661.6 562.02 L662.6 562.01 L663.6 562.01 L664.6 562.01 L665.6 562 L666.6 561.55 L667.6 561.29 L668.6 561.29 L669.6 561.28 L670.6 561.27 L671.6 561.27 L672.6 561.26 L673.6 561.25 L674.6 561.25 L675.6 561.24 L676.6 561.24 L677.6 561.23 L678.6 561.23 L679.6 561.23 L680.6 561.22 L681.6 561.22 L682.6 561.22 L683.6 561.21 L684.6 561.21 L685.6 561.21 L686.6 561.21 L687.6 561.21 L688.6 561.21 L689.6 561.2 L690.6 561.2 L691.6 561.2 L692.6 561.2 L693.6 561.2 L694.6 561.2 L695.6 561.2 L696.6 561.2 L697.6 561.2 L698.6 561.2 L699.6 561.2 L700.3 561.2" fill="none" stroke="#2e7d2e" stroke-width="1.7" stroke-linejoin="round"/>
<text x="711" y="398.8" font-size="15" font-weight="bold" text-anchor="middle">1</text>
<text x="709.9" y="517.6" font-size="15" font-weight="bold" text-anchor="middle">2</text>
<text x="709.9" y="538" font-size="15" font-weight="bold" text-anchor="middle">4</text>
<text x="709.9" y="562" font-size="15" font-weight="bold" text-anchor="middle">3</text>
<text x="709.9" y="576.5" font-size="15" font-weight="bold" text-anchor="middle">5</text>
<text x="472.4" y="395.6" font-size="17" font-weight="normal" text-anchor="start" stroke="#000" stroke-width="0.3">ADH</text>
<line x1="472.7" y1="398.2" x2="508.3" y2="398.2" stroke="#111" stroke-width="1.5"/>
<text transform="translate(409.8 494.5) rotate(-90)" font-size="20" font-weight="bold" text-anchor="middle">Metabolite,&#160;&#160;&#160;mmol/l<tspan font-size="11.6" dy="6">RBCs</tspan></text>
<text x="555" y="628" font-size="18" font-weight="bold" text-anchor="start">Time,&#160;&#160;&#160;h</text>
<rect x="569" y="434.7" width="174" height="67.6" fill="none" stroke="#333" stroke-width="1.5"/>
<text x="586.5" y="452" font-size="10.4" font-weight="bold" text-anchor="start">AMM<tspan font-size="6" dy="3.5">0</tspan><tspan dy="-3.5">=0.5 mM</tspan></text>
<text x="587" y="466.3" font-size="10" font-weight="bold" text-anchor="start">1</text>
<line x1="597.6" y1="462.9" x2="623" y2="462.9" stroke="#111" stroke-width="1.6"/>
<text x="629.7" y="466.3" font-size="10" font-weight="bold">AMM</text>
<text x="663.2" y="466.3" font-size="10" font-weight="bold" text-anchor="start">4</text>
<line x1="675" y1="462.9" x2="701" y2="462.9" stroke="#1a1ad0" stroke-width="1.6"/>
<text x="707.2" y="466.3" font-size="10" font-weight="bold">NAD</text>
<text x="587" y="479.3" font-size="10" font-weight="bold" text-anchor="start">2</text>
<line x1="597.6" y1="475.9" x2="623" y2="475.9" stroke="#b02a2a" stroke-width="1.6"/>
<text x="629.7" y="479.3" font-size="10" font-weight="bold">PYR</text>
<text x="663.2" y="479.3" font-size="10" font-weight="bold" text-anchor="start">5</text>
<line x1="675" y1="475.9" x2="701" y2="475.9" stroke="#d42ad4" stroke-width="1.6"/>
<text x="705.6" y="479.3" font-size="10" font-weight="bold">NADH</text>
<text x="587" y="492.3" font-size="10" font-weight="bold" text-anchor="start">3</text>
<line x1="597.6" y1="488.9" x2="623" y2="488.9" stroke="#2e7d2e" stroke-width="1.6"/>
<text x="629.7" y="492.3" font-size="10" font-weight="bold">ALA</text>
</svg></body></html>
